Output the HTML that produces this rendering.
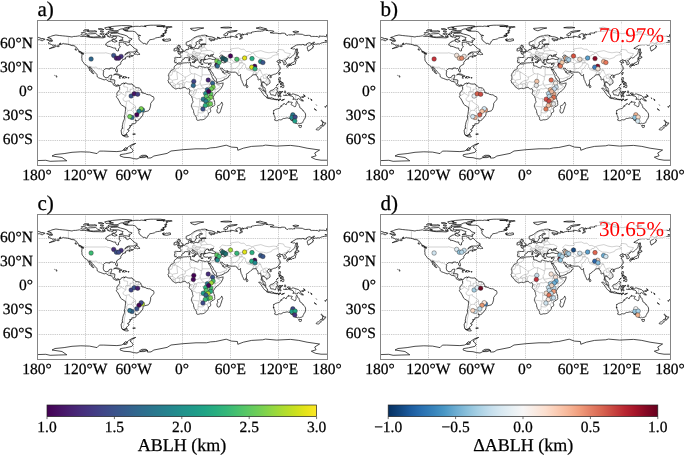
<!DOCTYPE html>
<html><head><meta charset="utf-8"><title>ABLH maps</title><style>
html,body{margin:0;padding:0;background:#fff;}
body{width:685px;height:456px;overflow:hidden;}
svg{display:block;}
text{font-family:"Liberation Serif","DejaVu Serif",serif;fill:#000;stroke:#000;stroke-width:0.25px;text-rendering:geometricPrecision;}
.tl{font-size:15.5px;}
.plab{font-size:21px;}
.cbl{font-size:18px;}
.pct{font-size:21.1px;fill:#ff0000;stroke:none;}
.coast{fill:none;stroke:#000;stroke-width:0.7;stroke-linejoin:round;}
.border{fill:none;stroke:#999;stroke-width:0.45;}
.grid{fill:none;stroke:#999;stroke-width:0.5;stroke-dasharray:1.3 0.9;}
.frame{fill:none;stroke:#858585;stroke-width:1;}
.dot{stroke:#222;stroke-width:0.4;}
</style></head><body><svg width="685" height="456" viewBox="0 0 685 456"><defs><clipPath id="clip"><rect x="0" y="0" width="290.0" height="145.0"/></clipPath><linearGradient id="vir" x1="0" x2="1" y1="0" y2="0"><stop offset="0.000" stop-color="#440154"/><stop offset="0.042" stop-color="#471063"/><stop offset="0.083" stop-color="#481f70"/><stop offset="0.125" stop-color="#472d7b"/><stop offset="0.167" stop-color="#443983"/><stop offset="0.208" stop-color="#404688"/><stop offset="0.250" stop-color="#3b528b"/><stop offset="0.292" stop-color="#365d8d"/><stop offset="0.333" stop-color="#31688e"/><stop offset="0.375" stop-color="#2c728e"/><stop offset="0.417" stop-color="#287c8e"/><stop offset="0.458" stop-color="#24868e"/><stop offset="0.500" stop-color="#21918c"/><stop offset="0.542" stop-color="#1f9a8a"/><stop offset="0.583" stop-color="#20a486"/><stop offset="0.625" stop-color="#28ae80"/><stop offset="0.667" stop-color="#35b779"/><stop offset="0.708" stop-color="#48c16e"/><stop offset="0.750" stop-color="#5ec962"/><stop offset="0.792" stop-color="#75d054"/><stop offset="0.833" stop-color="#90d743"/><stop offset="0.875" stop-color="#addc30"/><stop offset="0.917" stop-color="#c8e020"/><stop offset="0.958" stop-color="#e5e419"/><stop offset="1.000" stop-color="#fde725"/></linearGradient><linearGradient id="rdbu" x1="0" x2="1" y1="0" y2="0"><stop offset="0.000" stop-color="#053061"/><stop offset="0.042" stop-color="#10457e"/><stop offset="0.083" stop-color="#1c5c9f"/><stop offset="0.125" stop-color="#2a71b2"/><stop offset="0.167" stop-color="#3783bb"/><stop offset="0.208" stop-color="#4997c5"/><stop offset="0.250" stop-color="#6bacd1"/><stop offset="0.292" stop-color="#8ac0db"/><stop offset="0.333" stop-color="#a7d0e4"/><stop offset="0.375" stop-color="#c2ddec"/><stop offset="0.417" stop-color="#d7e8f1"/><stop offset="0.458" stop-color="#e7f0f4"/><stop offset="0.500" stop-color="#f7f6f6"/><stop offset="0.542" stop-color="#f9ebe3"/><stop offset="0.583" stop-color="#fcdfcf"/><stop offset="0.625" stop-color="#fbccb4"/><stop offset="0.667" stop-color="#f7b799"/><stop offset="0.708" stop-color="#f19e7d"/><stop offset="0.750" stop-color="#e48066"/><stop offset="0.792" stop-color="#d86551"/><stop offset="0.833" stop-color="#c94741"/><stop offset="0.875" stop-color="#ba2832"/><stop offset="0.917" stop-color="#a51429"/><stop offset="0.958" stop-color="#840924"/><stop offset="1.000" stop-color="#67001f"/></linearGradient><path id="coast" d="M9.6 19.7L12.5 18.9L14.7 19.2L13.1 18.4L12.5 17.7L10.6 17.5L13.7 16.6L14.9 15.9L18.9 15.0L22.3 15.5L25.3 15.8L28.3 16.1L31.4 16.4L35.0 17.0L36.7 16.4L38.7 16.4L40.7 16.1L42.4 15.8L44.3 16.5L47.1 16.3L50.8 16.9L53.2 17.4L56.5 17.7L58.2 17.7L61.0 17.7L65.7 17.9L67.3 17.6L68.5 16.9L67.3 16.0L68.3 14.6L69.4 14.7L70.2 15.4L71.3 15.9L70.6 16.4L72.1 16.5L72.0 17.3L73.1 16.7L74.1 17.2L74.6 17.8L75.7 17.7L76.0 16.2L77.3 16.3L78.5 16.4L79.5 16.8L79.6 17.2L78.9 17.6L79.4 18.0L77.9 19.0L76.8 19.1L75.9 18.9L74.9 20.0L73.7 20.9L71.9 21.3L71.9 21.8L69.9 22.6L68.8 24.1L68.7 25.1L69.9 25.1L70.6 26.6L71.8 26.3L73.3 26.7L76.5 28.0L78.7 28.1L78.9 29.6L80.1 31.0L81.3 31.0L81.7 30.1L81.3 28.9L83.4 27.0L82.7 25.7L81.8 25.1L82.7 24.2L82.3 23.5L82.1 22.3L85.6 22.2L87.5 23.3L88.9 23.3L89.2 25.0L90.5 25.6L91.7 25.1L93.0 23.9L93.6 24.7L95.5 26.6L97.0 28.0L98.4 28.8L100.1 29.6L100.1 30.5L99.0 31.1L97.6 31.3L96.7 32.1L93.5 32.0L91.5 32.1L89.8 32.9L87.7 34.8L89.7 33.6L91.4 32.9L92.6 32.9L93.3 33.4L92.8 34.6L93.4 35.3L95.5 35.5L96.5 35.4L95.9 36.1L94.1 36.5L92.3 37.5L91.8 37.1L93.0 36.0L91.8 36.0L91.1 36.4L90.2 36.7L88.5 37.3L88.0 38.7L88.7 38.7L87.1 39.2L85.4 39.8L85.4 40.6L84.5 41.2L84.2 42.3L83.5 42.7L84.0 43.8L83.2 44.5L81.7 45.2L81.2 45.8L79.8 46.7L79.5 48.1L80.2 49.6L80.5 50.8L80.2 52.2L79.6 52.2L79.0 51.0L78.2 50.0L78.5 49.5L77.6 48.4L76.4 48.7L75.4 48.0L72.8 48.2L73.0 49.0L72.3 49.1L70.5 48.7L69.4 48.6L68.7 48.7L67.2 49.7L66.5 50.4L66.7 51.6L66.3 52.9L66.3 54.9L66.7 55.9L67.4 57.0L69.0 57.9L70.2 57.6L71.4 57.3L72.3 55.6L73.7 55.2L74.9 55.2L74.6 56.8L74.1 58.0L73.9 59.2L73.4 59.7L74.2 59.7L77.0 59.8L78.0 60.4L77.7 61.9L77.5 63.3L77.8 64.1L78.8 65.1L79.8 65.4L80.9 64.8L82.6 65.5L83.1 65.6L84.0 64.9L84.6 63.7L85.9 63.5L86.8 62.9L87.5 63.2L87.1 64.1L87.3 63.6L88.5 63.3L88.7 62.7L89.5 63.3L90.1 63.7L91.7 64.0L93.2 64.1L95.1 63.9L95.9 65.2L96.1 65.6L97.4 66.1L99.0 67.7L100.7 67.7L102.4 68.1L103.7 69.1L104.3 71.0L104.8 71.7L104.2 72.3L105.9 72.7L105.9 73.5L106.5 73.0L108.8 73.8L109.2 74.2L111.6 74.8L112.9 74.8L114.0 75.5L115.0 76.4L116.3 76.6L116.9 77.9L117.0 78.4L116.7 79.8L115.2 81.4L114.1 82.9L113.6 83.6L113.7 85.1L113.3 86.9L112.9 88.3L112.1 90.1L111.2 90.9L109.1 91.4L107.5 91.9L105.9 93.4L105.9 95.2L105.0 96.0L104.2 97.5L102.9 98.4L102.0 99.7L101.7 100.2L100.8 100.7L99.7 100.6L99.0 100.2L98.0 99.8L98.0 100.4L98.9 100.9L99.3 101.8L98.5 103.3L97.3 103.7L94.8 103.8L95.0 105.3L92.6 105.6L93.2 106.7L93.8 106.8L92.7 107.1L92.2 108.8L90.8 109.2L90.5 109.8L92.2 110.5L91.8 111.2L90.4 112.7L89.3 113.3L90.1 114.6L88.0 115.1L87.4 115.9L85.6 115.0L84.7 114.6L84.3 112.0L84.1 110.0L84.8 109.4L85.2 108.0L86.0 108.3L85.6 107.5L85.1 107.3L85.6 104.6L86.0 102.4L86.5 101.1L87.1 99.8L87.5 98.6L87.4 95.8L87.9 94.7L88.3 91.5L88.5 89.7L88.4 87.2L87.5 86.8L84.4 84.8L83.8 84.3L82.1 80.9L80.7 78.3L79.6 77.4L79.4 76.3L80.3 75.2L79.8 74.3L79.9 73.3L80.6 72.2L81.4 71.1L82.9 69.4L82.6 69.2L82.7 67.1L82.0 66.5L81.8 65.7L80.9 65.3L80.2 66.0L80.2 66.6L79.2 66.0L78.2 66.0L77.6 65.6L76.0 64.5L76.0 63.6L74.9 62.4L74.4 61.8L72.7 61.5L71.5 61.3L70.7 60.8L69.8 59.9L68.7 59.5L67.2 59.9L65.3 59.2L63.8 58.6L63.1 58.3L61.6 57.8L60.4 57.0L60.0 55.7L60.2 55.3L59.9 54.5L59.6 54.1L57.7 52.2L56.9 51.2L55.8 50.0L54.6 49.1L53.8 47.4L52.5 46.9L52.6 48.2L53.9 49.3L54.1 50.0L55.1 51.0L55.8 52.5L56.9 53.6L56.1 53.6L54.6 52.6L54.5 51.6L52.8 50.7L52.3 49.9L53.0 49.5L52.0 48.7L51.0 47.0L50.7 46.3L50.5 45.9L49.6 45.4L49.1 45.0L47.9 44.6L47.8 44.1L47.0 43.3L46.3 42.2L45.9 41.9L45.4 41.2L44.9 40.0L45.0 38.7L44.7 38.0L45.0 34.7L44.5 33.5L45.8 33.8L46.2 34.6L46.5 33.1L45.9 33.0L43.8 31.9L42.4 31.6L42.0 30.4L41.0 30.0L40.3 28.4L39.5 28.0L38.4 26.7L37.0 25.7L35.0 25.6L32.3 24.6L30.1 24.1L27.5 23.8L26.5 23.4L24.5 24.2L22.8 24.8L22.6 23.6L23.9 23.1L22.5 24.2L21.5 25.1L20.8 25.7L19.1 26.3L17.4 27.4L15.9 27.7L13.6 28.4L12.2 28.7L13.6 28.1L14.7 27.5L15.9 27.1L17.4 26.4L18.5 25.1L17.6 25.3L16.4 25.1L15.0 25.2L14.5 24.7L14.6 24.5L12.7 23.8L11.8 23.8L11.8 23.3L11.2 23.0L11.5 22.5L12.4 21.7L13.6 21.7L14.9 21.3L15.5 21.1L15.3 20.8L14.9 20.6L15.5 20.3L15.0 20.3L14.1 20.5L13.0 20.5L12.1 20.6L11.0 20.4L10.6 20.1L9.6 19.7M109.6 24.3L107.7 23.4L106.1 23.4L104.8 22.2L103.4 21.3L103.0 20.7L102.9 20.0L101.7 19.3L101.9 18.4L102.3 17.4L100.9 16.4L101.5 15.8L103.6 15.6L102.2 15.1L100.7 15.0L100.1 14.0L98.8 12.3L97.8 11.7L95.6 11.2L89.8 11.2L87.5 10.5L91.2 10.1L87.8 10.0L86.0 9.7L86.0 9.3L89.1 8.9L92.1 8.5L92.4 8.1L90.9 7.7L93.7 7.1L96.4 6.5L98.9 6.3L101.4 6.3L102.3 6.5L104.4 6.1L107.5 6.4L109.2 6.7L107.3 6.0L110.0 5.5L113.9 5.2L116.7 5.2L123.2 5.2L128.2 5.9L126.7 6.2L123.7 6.2L119.7 6.4L125.0 6.6L127.2 6.7L126.3 7.1L128.4 6.8L132.3 6.5L134.7 6.7L135.2 7.0L131.9 7.6L128.9 7.9L130.7 8.0L129.8 8.5L129.1 9.0L129.1 10.0L130.1 10.5L127.5 10.8L129.0 11.2L129.2 11.9L128.3 11.9L129.4 12.6L127.6 12.7L128.6 13.1L127.1 13.5L126.0 13.5L127.0 14.0L127.0 14.3L125.4 14.0L126.2 14.4L127.2 14.9L127.4 15.5L126.1 15.7L124.5 15.0L124.7 15.5L123.7 15.9L127.0 16.0L124.9 16.7L122.7 17.3L120.3 17.6L118.6 18.0L117.5 18.8L115.7 19.3L114.1 19.6L112.9 19.7L112.2 20.3L112.2 20.9L111.8 21.3L110.5 22.0L110.8 22.6L110.4 23.3L110.0 24.1L109.6 24.3M140.5 43.5L139.8 42.9L139.0 42.6L137.8 42.8L137.9 41.6L137.3 41.3L137.9 39.6L137.9 38.4L137.4 37.9L138.6 37.3L139.5 37.4L141.5 37.5L143.5 37.5L143.9 37.1L144.0 35.4L143.2 34.6L141.4 33.9L141.3 33.3L142.3 33.1L143.7 33.4L143.5 32.4L144.2 32.8L146.0 32.1L146.3 31.5L147.0 31.3L147.7 31.2L148.1 30.9L148.8 29.7L149.9 29.4L150.6 29.4L150.7 29.2L151.5 29.4L152.1 29.0L151.9 28.7L151.8 28.0L151.5 27.8L151.5 27.0L151.8 26.5L153.5 26.0L153.3 26.7L153.8 27.0L153.6 27.3L153.1 27.7L153.0 28.2L153.8 28.7L154.7 28.8L155.1 28.6L156.0 28.9L156.4 29.2L157.1 29.0L158.2 28.6L159.2 28.3L160.0 28.4L160.1 28.7L160.9 28.7L161.0 28.3L162.2 28.0L162.0 27.4L162.0 26.7L162.4 26.3L163.1 25.9L163.8 26.6L164.4 26.6L164.6 25.9L164.7 25.5L163.9 25.3L163.8 24.8L164.8 24.6L165.9 24.5L167.6 24.6L169.2 24.2L167.6 23.8L166.2 23.8L164.7 24.1L163.4 24.3L163.0 23.8L162.2 23.6L162.3 22.8L162.0 22.1L162.3 21.6L163.0 21.1L164.9 20.2L165.5 20.1L165.4 19.7L164.3 19.3L162.9 19.6L162.1 20.1L162.2 20.6L161.0 21.3L159.3 22.0L158.8 23.1L159.3 23.7L160.1 24.1L159.4 25.0L158.5 25.2L158.2 26.6L157.8 27.3L156.8 27.2L156.4 27.9L155.4 27.9L155.2 27.1L154.5 26.3L153.9 25.1L153.4 24.6L151.8 25.5L150.6 25.7L149.6 25.3L149.3 24.4L149.0 22.6L149.8 22.1L151.9 21.3L153.5 20.5L155.0 19.4L156.9 17.9L158.2 17.2L160.5 16.3L162.2 15.9L163.5 15.9L164.7 15.3L166.3 15.3L167.7 15.1L170.2 15.7L169.2 15.9L170.1 16.4L170.9 16.2L172.2 16.7L174.4 16.8L177.5 17.8L178.1 18.1L178.1 18.7L177.2 19.1L175.9 19.3L172.3 18.7L171.7 18.9L173.0 19.4L173.1 20.6L174.2 20.9L174.8 21.1L174.9 20.7L174.4 20.3L175.0 20.1L176.9 20.5L177.5 20.3L177.1 19.7L178.9 18.9L180.4 19.3L180.8 18.7L180.2 18.2L180.6 17.7L180.0 17.2L182.3 17.6L182.7 18.0L181.7 18.0L181.7 18.5L182.9 18.6L183.6 18.6L183.7 18.1L185.4 17.7L188.3 17.0L188.9 17.1L188.1 17.6L189.1 17.6L189.6 17.4L191.2 17.3L192.4 17.0L193.3 17.5L194.2 17.0L193.3 16.5L193.8 16.2L196.2 16.5L197.3 16.8L200.2 17.6L200.7 17.2L199.9 16.8L199.9 16.6L198.9 16.5L199.2 16.2L198.7 15.5L198.7 15.3L200.2 14.6L200.7 13.9L201.3 13.7L203.5 13.9L203.6 14.3L202.8 15.0L203.4 15.2L203.6 15.8L203.5 16.9L204.4 17.4L204.0 18.0L202.4 19.1L203.3 19.2L203.6 18.9L204.5 18.7L204.8 18.3L205.5 17.9L205.0 17.5L205.3 16.9L204.5 16.8L204.3 16.4L204.9 15.6L203.9 15.0L205.3 14.4L205.2 13.9L205.6 13.8L206.0 14.3L205.7 15.1L206.5 15.1L206.1 14.6L207.5 14.3L209.2 14.3L210.7 14.7L209.9 14.0L209.8 13.2L211.3 13.0L213.2 13.1L214.9 13.0L214.3 12.5L215.2 12.0L216.1 12.0L217.7 11.6L219.8 11.4L220.1 11.3L222.3 11.2L222.9 11.4L224.7 11.0L226.2 11.0L226.4 10.6L227.2 10.2L229.1 9.9L230.5 10.1L229.3 10.4L231.2 10.5L231.4 10.9L232.2 10.7L234.5 10.7L236.3 11.1L236.9 11.4L236.8 11.8L235.9 12.1L233.8 12.5L233.1 12.7L234.1 12.9L235.3 13.1L236.0 12.9L236.4 13.5L236.8 13.2L238.1 13.1L240.7 13.2L240.9 13.6L244.2 13.7L244.3 13.1L246.0 13.2L247.3 13.2L248.6 13.7L249.0 14.2L248.5 14.5L249.5 15.1L250.8 15.5L251.6 14.7L252.9 15.0L254.2 14.7L255.8 15.1L256.3 14.8L257.7 14.9L257.1 14.2L258.2 13.9L265.4 14.3L266.2 14.8L268.2 15.5L271.5 15.3L273.1 15.4L273.7 15.7L273.6 16.4L274.6 16.6L275.7 16.4L277.2 16.4L278.6 16.5L280.2 16.4L281.6 17.2L282.6 16.9L281.9 16.4L282.3 16.0L284.8 16.3L286.5 16.2L288.9 16.6L290.0 16.9M0.0 16.9L1.9 17.6L4.1 18.4L4.0 18.9L4.6 19.1L4.8 18.5L6.5 18.6L8.1 19.3L7.3 19.7L6.0 19.8L6.0 20.5L5.6 20.7L4.9 20.7L4.0 20.5L3.1 19.8L2.3 19.7L1.3 19.8L0.9 19.6L1.0 19.3L0.1 19.4L0.0 20.1M290.0 20.1L289.5 20.5L287.9 20.5L288.6 20.9L289.1 21.5L289.5 21.8L289.4 22.3L287.9 22.2L285.7 22.7L284.9 22.8L283.7 23.4L282.5 23.9L282.2 24.2L281.1 23.7L279.0 24.3L278.6 24.0L277.8 24.4L276.7 24.2L276.5 24.8L275.5 25.6L275.6 25.9L276.5 26.1L276.4 27.2L275.6 27.3L275.3 28.0L275.6 28.3L274.2 28.8L273.9 29.6L272.7 29.8L272.0 31.0L271.0 30.9L270.7 29.6L270.2 27.9L270.6 26.7L271.3 26.3L272.6 25.7L274.1 24.7L275.4 23.9L276.9 23.3L277.5 22.1L276.5 22.2L276.1 22.9L274.0 23.8L273.3 22.7L271.2 23.0L269.2 24.3L269.9 24.9L268.1 25.1L266.9 25.1L266.9 24.6L265.7 24.4L264.6 24.8L262.2 24.7L259.6 25.0L257.0 26.5L253.8 28.4L255.1 28.5L255.5 29.0L256.3 29.2L256.8 28.8L257.7 28.8L258.8 29.7L258.9 30.4L258.3 31.3L258.2 32.2L257.9 33.5L256.7 34.6L256.3 35.2L255.3 36.2L254.2 37.1L253.7 37.5L252.5 38.0L252.1 38.0L251.6 37.6L250.4 38.2L250.4 38.5L250.0 38.4L249.7 38.7L249.5 39.6L249.1 39.7L248.6 40.1L248.1 40.3L247.7 40.4L247.6 40.9L248.4 41.4L249.1 42.4L249.3 42.9L249.3 43.8L249.0 44.2L247.6 44.7L246.9 44.8L246.8 44.4L247.0 43.7L246.6 42.9L247.2 42.8L246.7 42.1L246.3 42.0L245.9 42.1L245.5 41.8L245.7 41.5L245.9 41.2L246.0 40.8L245.9 40.6L245.5 40.5L245.1 40.4L244.0 40.6L243.4 40.9L242.6 41.2L243.0 40.8L242.8 40.4L243.4 40.0L243.0 39.6L242.3 39.8L241.3 40.4L240.9 40.8L240.1 40.9L239.7 41.3L240.1 41.8L240.8 42.0L240.8 42.4L241.4 42.5L242.3 42.0L243.0 42.3L243.6 42.3L243.7 42.8L242.6 42.9L242.2 43.4L241.4 43.8L241.0 44.4L241.8 44.8L242.2 45.6L242.6 46.3L243.2 47.0L243.2 47.6L242.7 47.8L242.9 48.3L243.4 48.5L243.2 49.1L243.0 49.8L242.6 49.9L241.3 51.8L240.6 52.8L238.4 54.1L237.5 54.2L237.0 54.6L236.7 54.4L236.2 54.7L235.1 55.1L234.3 55.3L233.9 56.1L233.5 56.1L233.3 55.6L233.5 55.3L232.4 55.0L232.1 55.1L231.0 55.8L230.3 56.6L230.1 57.1L230.7 58.0L231.5 59.0L232.2 59.5L232.7 60.2L233.0 61.7L233.0 63.1L232.3 63.6L231.4 64.1L230.7 64.8L229.7 65.6L229.4 65.1L229.7 64.5L229.0 64.0L228.4 64.0L228.1 63.5L227.7 62.7L226.9 62.4L226.2 62.4L226.4 61.7L225.6 61.7L225.6 62.6L224.9 63.6L224.9 65.1L225.5 65.1L225.8 65.8L226.0 66.5L226.4 66.9L226.8 67.1L227.2 67.5L228.0 68.1L228.3 68.6L228.3 69.1L228.2 69.5L228.3 69.8L228.4 70.2L228.7 70.5L228.9 71.2L228.9 71.5L228.4 71.5L227.7 70.9L226.7 70.2L226.6 69.8L226.1 69.4L226.0 68.6L225.7 68.2L225.8 67.7L225.6 67.3L225.3 67.0L225.2 66.6L224.8 66.1L224.3 65.7L224.2 66.2L224.1 65.7L224.2 65.2L224.4 64.5L224.3 63.9L224.6 63.3L224.3 62.8L224.3 61.9L224.0 61.5L223.8 60.6L223.6 59.5L223.3 58.9L222.7 59.3L221.8 59.9L221.4 59.8L220.9 59.6L221.1 58.6L221.0 57.8L220.3 56.9L220.5 56.6L220.0 56.5L219.4 55.8L219.2 55.4L219.1 55.0L219.0 54.6L218.6 54.1L217.9 54.1L218.0 54.5L217.7 54.9L217.3 54.8L217.0 54.8L216.7 54.7L216.6 55.0L216.1 55.0L215.1 55.2L215.1 55.8L214.7 56.2L213.6 56.8L212.6 57.8L212.0 58.2L211.2 58.8L211.2 59.1L210.8 59.4L210.1 59.6L209.7 59.7L209.4 60.3L209.6 61.4L209.7 62.0L209.4 62.8L209.4 64.1L208.9 64.2L208.6 64.8L208.8 65.1L208.1 65.3L207.8 65.8L207.4 66.1L206.7 65.3L206.3 64.2L206.0 63.4L205.7 63.0L205.3 62.3L205.1 61.2L204.9 60.7L204.2 59.6L203.9 58.1L203.6 57.0L203.6 56.1L203.5 55.3L203.6 54.5L203.2 54.7L202.4 55.7L201.8 55.7L200.7 54.7L201.1 54.4L200.8 54.1L199.9 53.4L199.3 53.2L199.1 52.6L198.5 52.0L197.0 52.2L195.7 52.2L194.5 52.3L193.0 52.0L192.1 51.9L191.2 51.8L190.9 50.8L190.5 50.7L189.9 50.8L189.1 51.2L188.1 50.9L187.3 50.3L186.5 50.0L186.0 49.3L185.4 48.3L185.0 48.3L184.4 48.1L184.2 48.4L183.7 48.3L183.7 48.7L184.0 49.5L184.3 50.2L184.7 50.3L184.9 50.7L185.4 51.0L185.4 51.6L185.4 51.9L185.7 52.1L185.9 52.5L186.2 51.5L186.6 51.7L186.6 52.2L186.4 52.7L186.9 53.2L188.5 53.1L189.6 52.0L190.2 51.5L190.4 51.2L190.4 51.6L190.4 52.4L191.2 53.2L191.8 53.4L192.3 53.5L192.9 54.2L193.2 54.5L192.8 55.3L192.4 55.5L192.1 56.1L191.7 56.0L191.5 56.6L191.6 57.1L191.1 57.3L190.6 57.5L190.4 58.1L189.9 58.1L189.5 58.3L189.5 58.6L189.1 58.8L188.7 58.8L188.2 59.0L187.2 59.3L187.0 59.9L186.2 60.3L185.0 60.7L184.2 61.2L183.6 61.2L183.2 61.5L182.6 61.7L181.7 61.8L181.3 62.0L180.8 62.3L180.0 62.4L179.8 61.9L179.9 61.4L179.6 60.6L179.3 60.3L179.5 59.7L179.3 59.0L179.1 58.4L178.7 58.2L178.2 57.4L177.9 56.8L177.4 56.2L176.5 55.3L176.4 54.8L176.5 54.3L176.0 53.4L175.2 52.9L175.0 52.3L174.5 51.7L174.2 51.1L173.7 50.4L173.3 49.9L172.9 49.9L173.0 49.1L173.2 48.8L172.9 49.5L172.5 50.1L172.1 49.7L171.3 48.4L171.1 48.5L171.6 49.6L172.3 50.8L172.8 51.6L173.8 53.2L173.6 53.9L174.6 54.6L175.0 55.6L174.9 56.6L175.2 57.5L175.9 58.0L176.4 59.0L176.7 59.7L177.1 60.1L178.2 60.8L178.6 61.3L179.1 61.8L179.7 62.3L179.9 62.5L179.4 63.1L179.7 63.2L180.0 63.4L180.5 64.1L180.9 64.1L181.7 63.9L182.5 63.8L183.3 63.6L184.4 63.3L185.5 63.1L186.2 62.8L186.1 63.5L186.1 64.0L185.8 65.1L184.9 67.0L184.2 68.2L183.4 69.1L182.5 70.2L181.7 70.9L180.5 71.6L179.7 72.3L178.8 73.2L178.5 73.9L177.9 74.2L177.5 74.6L177.3 75.2L176.9 76.0L176.6 76.3L176.2 77.3L176.3 77.7L176.7 78.0L176.6 78.7L176.7 78.9L176.6 79.3L176.8 79.8L177.1 80.6L177.5 80.8L177.6 81.2L177.5 82.0L177.7 82.6L177.7 83.9L177.9 84.3L177.6 84.9L177.3 85.5L176.8 86.0L176.0 86.3L175.1 86.7L174.2 87.6L173.9 87.6L173.4 88.3L173.0 88.5L173.0 89.0L173.4 89.7L173.5 90.1L173.7 90.3L173.6 91.1L173.5 91.4L173.7 91.6L173.6 91.9L173.2 92.2L172.5 92.5L171.6 93.0L171.3 93.2L171.3 93.5L171.5 93.6L171.4 94.0L171.3 94.7L171.2 95.3L170.9 95.7L170.4 96.1L169.9 96.6L169.7 97.0L169.2 97.6L168.3 98.4L167.7 98.9L167.2 99.2L166.3 99.6L165.8 99.8L165.3 99.7L164.9 99.9L164.0 99.7L163.2 99.8L162.3 100.1L161.7 100.2L161.2 100.5L160.8 100.5L160.5 100.3L159.8 99.9L159.7 99.8L159.7 99.3L159.4 98.8L159.7 98.6L159.7 98.0L159.2 97.2L158.8 96.6L158.1 95.5L157.6 94.9L157.2 94.3L157.1 93.5L156.8 93.0L156.6 91.8L156.6 90.8L156.5 90.3L156.2 90.0L155.8 89.3L155.3 88.4L155.2 87.8L154.5 87.1L154.4 86.4L154.3 86.0L154.5 85.2L154.7 84.5L154.8 84.1L155.1 83.4L155.2 83.1L155.7 82.6L156.0 82.2L156.0 81.6L156.0 81.1L155.8 80.9L155.6 80.4L155.4 79.9L155.6 79.4L155.4 78.6L155.2 78.1L154.8 77.6L154.8 77.2L154.6 76.5L153.9 75.7L153.1 74.9L152.6 74.2L152.1 73.4L152.2 72.9L152.5 72.3L152.7 71.7L152.5 71.5L152.7 70.6L152.9 70.0L152.6 69.5L152.2 69.4L152.0 69.0L151.8 68.6L151.0 69.0L150.7 68.9L150.4 69.1L149.8 69.0L149.4 68.6L149.0 68.0L148.5 67.4L147.9 67.4L147.2 67.4L146.5 67.6L145.9 67.7L144.6 68.2L144.1 68.5L143.4 68.7L142.7 68.5L141.8 68.3L141.3 68.3L140.3 68.5L139.8 68.7L139.0 69.0L138.6 69.0L137.8 68.5L137.0 68.0L136.3 67.6L135.8 67.0L135.0 66.6L134.6 66.2L134.4 65.9L134.4 65.3L134.0 64.8L133.6 64.5L133.2 64.3L133.2 63.9L132.8 63.6L132.4 63.2L132.0 63.2L131.9 62.9L131.6 62.7L131.5 62.5L131.5 61.9L131.5 61.5L131.2 60.9L130.8 60.7L131.1 60.5L131.5 59.9L131.7 59.5L132.0 57.9L131.9 57.1L131.8 56.7L131.9 56.3L131.7 55.9L131.2 55.6L131.3 55.3L131.3 54.9L131.6 54.6L131.9 54.2L131.9 54.0L132.1 53.4L132.6 52.8L132.8 52.8L133.1 52.3L133.4 51.3L133.9 51.1L134.4 50.2L134.9 49.9L135.6 49.9L136.2 49.3L136.6 49.1L137.3 48.4L137.1 47.4L137.4 46.7L137.5 46.2L138.0 45.8L138.8 45.4L139.4 45.0L140.0 44.2L140.2 43.7L140.8 43.7L141.3 44.1L142.1 44.0L142.9 44.1L143.2 44.1L144.0 43.7L144.9 43.6L145.4 43.3L146.2 43.0L147.6 42.9L148.9 42.8L149.3 42.9L150.1 42.6L150.9 42.6L151.2 42.8L151.8 42.8L152.7 42.5L153.2 42.5L153.2 42.9L153.9 42.6L153.9 42.8L153.5 43.2L153.5 43.6L153.8 43.7L153.7 44.5L153.1 44.9L153.3 45.3L153.8 45.3L153.9 45.7L154.3 45.8L155.2 46.1L155.6 46.0L156.2 46.2L157.2 46.5L157.6 47.2L158.4 47.4L159.5 47.7L160.4 48.1L160.8 47.9L161.2 47.5L161.0 46.9L161.2 46.6L161.8 46.2L162.3 46.1L163.4 46.2L163.7 46.6L164.3 46.7L165.1 46.8L165.3 47.0L166.3 47.0L167.2 47.3L168.0 47.5L168.3 47.6L168.9 47.4L169.2 47.1L170.0 47.0L170.5 47.2L170.8 47.6L170.9 47.3L171.6 47.5L172.2 47.5L172.6 47.4L172.9 47.1L173.0 46.6L173.2 46.1L173.3 45.8L173.6 45.2L174.0 44.6L174.0 44.4L173.9 44.0L174.1 43.7L173.8 43.3L174.2 42.9L173.7 43.0L173.0 42.9L172.4 43.3L171.2 43.4L170.5 43.0L169.7 42.9L169.5 43.3L168.9 43.4L168.1 42.9L167.2 42.9L166.8 42.1L166.2 41.7L166.6 41.1L166.1 40.7L166.1 40.3L166.3 40.1L167.0 40.0L168.2 39.9L168.5 39.3L167.6 39.0L167.5 38.7L167.3 38.2L167.6 37.6L168.0 37.3L168.2 36.3L168.4 36.4L168.8 36.0L169.5 35.4L169.7 35.0L170.5 34.9L170.5 35.2L171.8 35.4L172.1 35.5L171.3 35.8L171.2 36.0L172.0 36.2L171.8 36.6L172.3 36.7L173.4 36.3L174.2 36.2L174.4 35.8L173.5 36.0L173.2 35.7L173.1 35.2L173.8 35.0L175.1 34.6L175.8 34.6L176.5 34.4L175.8 35.3L175.1 35.9L174.6 36.1L175.2 36.5L176.2 36.8L177.2 37.5L177.5 37.8L177.9 37.9L178.4 38.2L178.6 38.7L178.5 39.1L177.5 39.5L176.8 39.4L175.9 39.6L174.7 39.2L173.4 38.7L172.0 38.7L171.0 38.9L170.1 39.4L169.6 39.4L168.5 39.3L168.2 39.6L167.2 39.5L166.4 39.8L165.9 39.6L165.5 39.6L165.1 39.6L164.1 39.7L164.7 40.2L164.3 40.3L163.8 40.3L163.4 39.9L163.2 40.0L163.4 40.5L163.9 40.9L163.5 41.1L163.9 41.5L164.3 41.7L164.3 42.1L163.6 42.0L163.9 42.4L163.4 42.5L163.7 43.2L163.1 43.2L162.5 42.9L162.2 42.2L162.0 41.6L161.7 41.2L161.3 40.8L161.1 40.5L161.1 40.3L160.6 40.0L160.5 39.7L160.6 39.2L160.7 38.9L160.5 38.7L160.2 38.4L159.9 38.3L159.3 37.9L158.6 37.7L157.9 37.5L157.2 36.9L157.0 36.5L157.0 36.2L156.5 36.1L156.3 36.4L156.0 36.2L156.0 35.8L155.6 35.7L154.9 35.9L155.0 36.3L154.9 36.6L155.2 37.0L155.9 37.4L156.3 38.0L157.2 38.7L157.8 38.7L158.0 38.9L157.8 39.1L158.8 39.5L159.1 39.6L159.8 40.0L159.9 40.1L159.7 40.4L159.3 40.0L158.6 40.0L158.2 40.4L158.9 40.8L158.8 41.2L158.4 41.2L158.0 41.9L157.6 42.0L157.6 41.7L157.8 41.2L158.0 41.1L157.4 40.3L157.1 40.1L156.8 39.8L156.4 39.6L156.0 39.3L155.4 39.2L154.7 38.9L154.0 38.3L153.5 37.9L153.2 37.1L152.8 37.1L152.2 36.7L151.8 36.9L151.4 37.2L151.0 37.3L150.2 37.8L148.7 37.5L147.5 37.8L147.4 38.3L147.4 38.7L146.7 39.3L145.6 39.5L145.6 39.7L145.1 40.2L144.8 40.8L145.1 41.3L144.6 41.6L144.4 42.2L143.9 42.4L143.3 42.9L141.5 42.9L141.0 43.3L140.7 43.6L140.5 43.5M182.6 36.6L183.3 35.8L184.6 35.1L185.5 35.2L186.1 36.2L185.5 36.6L186.3 37.8L187.5 38.3L187.3 38.8L187.6 39.4L188.5 39.6L187.7 40.3L188.0 40.8L187.8 40.8L188.4 42.5L186.6 42.9L185.4 42.4L184.4 41.2L184.6 39.8L185.4 39.9L184.9 39.6L184.2 38.8L183.2 37.5L182.6 36.6M259.8 81.1L260.0 81.5L260.3 82.1L260.6 82.8L260.7 83.3L260.7 83.6L261.5 83.9L262.1 84.6L262.0 84.9L262.2 85.6L262.3 86.0L262.8 86.8L262.7 87.2L262.9 87.8L264.4 88.6L264.9 88.9L265.6 90.5L265.9 90.3L266.5 90.7L266.6 91.4L267.5 92.2L268.3 92.9L268.3 93.5L268.7 95.1L268.3 97.0L268.2 98.0L267.8 98.8L267.2 99.1L266.9 99.7L266.6 100.5L265.9 101.8L265.8 102.4L265.3 103.0L263.7 103.3L262.9 103.9L262.2 103.6L261.7 103.4L261.4 103.2L260.7 103.8L260.0 103.5L259.1 103.4L258.3 103.1L257.5 102.6L257.6 102.0L257.1 101.3L256.2 101.2L256.6 100.8L256.3 100.2L255.9 100.8L255.2 100.9L255.7 100.5L255.8 100.0L256.1 99.6L256.0 99.0L254.9 100.0L254.6 100.6L253.9 100.3L253.9 99.8L253.4 99.2L253.0 98.9L253.2 98.8L252.1 98.3L251.6 98.3L250.8 97.9L249.3 98.0L248.3 98.3L247.4 98.5L246.6 98.4L245.8 98.8L245.1 99.1L244.6 99.8L243.9 99.8L243.4 99.9L242.7 99.7L242.2 99.8L241.6 99.9L241.1 100.3L240.9 100.3L240.1 100.8L239.5 100.7L238.9 100.7L238.1 100.2L237.6 100.1L237.6 99.6L238.0 99.5L238.2 99.3L238.2 99.0L238.2 98.8L238.3 98.4L238.2 98.0L237.8 97.1L237.6 96.7L237.6 96.3L237.3 95.7L237.3 95.5L237.0 95.1L236.8 94.5L236.4 93.8L236.3 93.5L236.7 93.8L236.3 93.1L236.8 93.4L237.0 93.7L237.0 93.3L236.6 92.6L236.5 92.4L236.3 92.2L236.4 91.7L236.6 91.5L236.7 91.1L236.6 90.6L236.9 90.1L237.0 90.6L237.3 90.1L238.0 89.8L238.4 89.5L239.0 89.2L239.4 89.1L239.6 89.2L240.2 88.9L240.7 88.9L240.9 88.6L241.1 88.6L241.5 88.6L242.4 88.4L242.8 88.0L243.0 87.6L243.4 87.2L243.5 86.4L244.1 85.7L244.4 86.4L244.8 86.3L244.5 85.9L244.7 85.5L245.1 85.6L245.2 85.1L245.6 84.7L245.9 84.3L246.3 84.2L246.3 83.9L246.6 84.0L246.6 83.9L247.0 83.8L247.4 83.6L248.0 84.0L248.4 84.5L248.9 84.5L249.4 84.6L249.2 84.1L249.6 83.5L250.0 83.3L249.9 83.1L250.2 82.6L250.7 82.3L251.1 82.4L251.8 82.2L251.8 81.8L251.2 81.6L251.7 81.4L252.1 81.7L252.6 82.0L253.3 82.2L253.5 82.1L254.0 82.3L254.5 82.2L254.8 82.2L255.0 82.1L255.4 82.5L255.1 82.9L254.8 83.2L254.6 83.2L254.6 83.5L254.4 83.9L254.1 84.3L254.2 84.6L254.8 85.1L255.4 85.3L255.8 85.6L256.4 86.0L256.7 86.0L257.1 86.3L257.2 86.5L257.9 86.8L258.5 86.5L258.7 86.0L258.8 85.7L258.9 85.2L259.1 84.6L259.1 84.3L259.0 83.5L259.1 82.9L259.2 82.7L259.1 82.5L259.3 82.1L259.5 81.6L259.5 81.4L259.8 81.1M100.3 30.9L99.1 31.8L98.1 33.0L97.3 33.4L97.1 34.2L98.1 34.2L99.5 34.2L100.1 34.6L100.7 34.7L101.5 34.2L102.3 35.0L102.6 34.2L102.2 33.4L101.5 32.7L100.3 32.3L100.1 31.4L100.3 30.9M76.6 54.9L77.8 54.1L79.1 53.8L80.1 53.9L80.8 54.1L81.9 54.4L82.9 55.0L84.1 55.6L85.2 56.1L84.1 56.5L82.3 56.5L82.9 56.1L82.1 55.8L81.6 55.1L79.1 54.6L78.8 54.5L77.7 54.6L76.6 54.9M87.2 56.6L88.6 56.7L89.4 57.2L90.0 57.5L89.1 57.7L88.0 57.7L87.5 58.3L86.7 57.8L85.1 57.8L86.4 57.5L86.4 56.8L86.0 56.6L87.2 56.6M82.5 57.6L83.5 58.0L82.8 58.2L81.9 57.8L82.5 57.6M90.9 57.6L92.2 57.8L92.0 58.0L90.9 58.0L90.9 57.6M92.4 22.6L89.6 21.8L87.8 21.8L85.4 20.6L82.2 20.7L83.8 19.9L85.8 19.7L85.4 18.6L86.2 17.7L83.4 16.7L81.4 15.9L77.3 15.9L74.1 15.8L72.9 15.1L74.1 13.3L76.5 13.3L80.6 13.1L83.4 14.0L87.0 14.9L89.8 15.9L91.0 16.8L91.4 17.7L95.1 18.9L93.8 20.3L92.5 20.0L91.8 21.2L93.0 21.8L92.4 22.6M80.2 21.3L77.7 22.2L76.9 21.8L74.9 21.1L75.7 19.7L76.4 19.3L78.1 20.1L79.3 20.5L80.2 21.3M63.6 16.5L60.4 16.8L56.8 17.1L53.6 16.8L50.3 16.2L52.4 15.7L49.5 15.3L50.3 14.0L53.6 13.8L56.0 13.7L58.8 13.5L60.8 15.3L62.4 15.7L63.6 16.5M43.9 14.6L45.5 15.1L47.9 14.9L48.7 14.1L49.5 13.5L47.1 12.6L44.4 12.6L45.1 13.3L43.9 14.6M80.7 10.5L83.8 9.0L86.6 8.7L87.6 7.9L91.4 7.1L95.1 6.3L92.6 5.7L84.6 5.6L75.7 6.4L71.7 7.2L72.9 7.7L74.5 8.5L76.5 8.9L72.5 9.3L74.1 10.1L77.3 10.9L80.7 10.9L80.7 10.5M80.6 12.4L78.1 12.5L73.7 12.6L70.9 11.7L72.5 10.9L76.5 11.1L80.6 11.1L81.4 11.8L80.6 12.4M72.1 9.3L68.9 9.4L67.7 7.8L71.3 7.1L74.1 7.7L72.1 9.3M68.5 14.5L69.7 12.9L72.1 13.0L70.9 14.1L68.5 14.5M65.7 14.9L62.8 13.9L63.6 13.4L66.5 13.1L67.3 14.1L65.7 14.9M60.0 11.7L56.4 11.9L53.2 12.1L50.3 11.3L52.0 10.9L56.4 10.9L57.6 10.6L59.6 11.3L60.0 11.7M66.1 12.1L63.6 11.7L63.2 11.0L64.8 10.9L66.5 11.4L66.1 12.1M52.0 10.1L49.1 11.0L46.3 10.9L47.5 9.8L50.8 9.7L52.0 10.1M67.3 17.1L64.8 16.9L65.7 16.1L67.7 16.3L67.3 17.1M66.9 9.7L63.6 9.7L61.2 8.9L64.4 8.5L66.9 9.7M45.5 33.5L43.7 33.0L41.6 31.7L42.5 31.5L44.3 32.2L45.5 33.5M39.1 28.9L37.9 29.0L38.3 29.8L39.3 30.4L39.1 28.9M21.3 25.9L22.4 26.1L21.6 26.6L20.5 26.7L21.3 25.9M89.7 114.9L90.6 116.0L91.4 116.8L89.8 117.0L87.8 116.7L85.4 115.2L86.6 115.6L88.2 115.2L89.1 114.8L89.7 114.9M95.7 114.2L97.9 113.7L98.4 114.1L97.5 114.5L95.7 114.2M19.4 56.2L20.1 56.6L19.6 57.3L19.3 56.6L19.4 56.2M17.8 55.1L18.0 55.3L17.6 55.3L17.8 55.1M18.9 55.7L19.3 55.8L18.9 55.9L18.9 55.7M140.4 32.1L141.4 32.0L142.3 31.7L143.5 31.7L145.4 31.6L146.1 31.2L145.5 31.0L146.4 30.0L145.2 29.8L144.9 29.3L144.0 28.5L143.6 27.7L143.3 27.4L142.5 27.4L142.9 27.1L143.5 26.1L142.2 26.0L141.6 26.1L142.5 25.3L141.0 25.3L140.0 26.7L140.5 27.1L140.5 28.0L141.2 27.8L141.0 28.4L142.1 28.5L142.6 29.1L142.5 29.5L141.3 29.4L141.5 30.0L141.1 30.5L140.7 30.8L141.6 30.9L142.6 30.9L141.5 31.3L140.7 31.4L140.4 32.1M140.0 29.1L140.2 28.2L139.0 27.9L138.2 28.2L138.1 28.7L136.9 28.9L137.1 29.5L137.4 30.1L136.7 30.6L137.2 30.9L138.2 30.9L139.6 30.4L140.2 29.9L140.0 29.1M133.3 18.9L133.2 19.5L134.0 20.1L132.9 20.6L129.9 21.3L126.6 20.9L127.4 20.6L125.7 20.2L127.1 20.1L125.4 19.7L125.9 19.1L127.2 19.0L128.4 19.6L129.6 19.1L130.7 19.3L132.0 18.9L133.3 18.9M153.5 8.4L157.9 8.1L161.1 7.7L166.8 8.0L163.5 8.7L161.9 9.2L159.9 10.1L157.9 10.8L155.9 10.2L153.9 9.3L153.5 8.4M186.5 14.9L188.1 13.7L189.7 12.5L190.9 11.7L193.3 11.1L196.6 10.7L200.2 10.5L199.8 11.1L194.9 12.0L192.1 12.6L190.1 13.7L190.7 14.9L189.3 15.5L187.7 15.4L186.5 14.9M219.1 8.1L223.1 7.1L226.4 8.1L229.6 8.9L226.4 9.5L223.1 9.0L219.1 8.1M255.8 11.7L258.6 11.1L261.8 11.7L259.4 12.6L257.0 12.3L255.8 11.7M183.7 7.7L186.9 7.2L191.7 7.1L194.9 7.7L189.3 8.1L183.7 7.7M289.0 15.1L290.0 14.9L290.0 15.4L289.0 15.1M259.3 35.4L259.9 34.9L260.6 35.4L260.4 32.8L261.5 33.1L260.6 31.4L260.4 30.0L260.4 28.8L259.7 28.8L260.0 29.2L259.1 29.6L259.1 30.4L259.6 31.4L259.4 33.6L259.3 35.4M257.8 38.3L258.0 37.6L258.9 37.5L259.3 35.8L260.3 36.7L262.0 36.8L262.0 37.6L260.9 37.9L260.4 38.7L259.1 38.1L258.7 39.0L257.8 39.1L257.8 38.3M259.3 40.9L258.9 39.2L258.0 39.3L257.7 39.8L257.8 40.8L257.3 41.7L256.7 42.1L255.4 42.9L255.1 42.5L254.3 43.9L252.1 43.9L251.8 44.0L250.5 44.8L251.7 45.2L252.9 44.8L253.8 44.6L254.4 45.5L255.2 44.8L255.7 44.5L257.0 44.5L257.7 43.8L258.0 44.2L258.5 43.3L258.6 41.7L259.3 40.9M249.9 45.4L250.4 45.2L251.3 45.9L250.8 47.2L250.3 47.5L249.9 47.2L249.6 46.2L249.9 45.4M251.7 45.5L253.5 45.3L253.4 44.9L252.1 45.0L251.7 45.5M242.9 52.1L243.3 52.4L242.6 54.1L242.2 54.9L241.8 54.0L241.7 53.5L242.9 52.1M232.5 56.9L233.4 57.8L234.3 57.5L234.4 56.6L234.1 56.3L233.3 56.4L232.5 56.9M209.2 65.9L209.5 64.6L210.1 65.0L210.5 65.6L210.9 66.5L210.7 67.3L210.4 67.5L209.7 67.7L209.4 67.0L209.2 65.9M184.9 82.2L185.4 83.5L185.7 84.7L185.4 85.4L184.9 86.3L184.8 87.0L184.1 89.0L183.6 90.5L182.9 92.6L181.6 93.1L180.4 92.6L179.9 90.9L180.0 89.7L180.8 88.7L180.4 86.5L180.8 85.6L181.7 85.4L182.3 85.2L183.4 84.3L183.7 83.9L184.3 83.1L184.6 82.2L184.9 82.2M171.0 44.2L172.3 44.1L172.9 43.7L172.3 44.3L171.5 44.6L171.0 44.2M163.9 44.1L166.2 44.1L165.1 44.3L163.9 44.1M155.0 42.1L157.2 41.7L157.6 41.9L157.2 43.0L155.0 42.1M151.8 39.5L152.9 39.5L152.7 40.9L151.8 41.1L151.8 39.5M152.0 38.2L152.6 37.9L152.7 38.6L152.4 39.2L151.9 38.7L152.0 38.2M153.9 27.9L155.2 27.8L154.9 27.3L154.1 27.6L153.9 27.9M242.2 57.6L243.4 57.6L243.5 58.7L243.0 59.7L243.0 61.0L244.9 62.4L244.3 62.0L243.6 61.5L242.2 61.3L242.4 60.7L241.7 60.2L241.6 59.3L242.0 59.6L241.9 58.7L242.2 57.6M243.2 66.9L244.1 66.5L244.6 66.2L245.1 65.9L246.0 65.2L246.0 64.6L246.7 65.0L246.9 66.2L246.7 67.4L246.0 68.0L245.7 67.7L245.1 67.5L244.8 66.6L243.4 66.9L243.2 66.9M245.1 62.4L246.1 62.7L246.3 63.6L245.7 64.4L245.1 63.2L245.1 62.4M243.2 62.9L244.2 63.5L243.7 64.0L243.2 63.6L243.2 62.9M243.6 63.9L244.5 63.8L244.2 65.2L243.6 64.7L243.6 63.9M239.4 65.7L241.3 64.0L240.9 64.1L239.6 65.7L239.4 65.7M241.9 61.6L242.9 61.9L242.6 62.7L242.1 62.1L241.9 61.6M232.8 71.3L233.4 70.9L234.6 70.3L236.0 70.0L237.6 68.6L238.6 67.6L239.0 66.9L239.8 67.3L240.5 68.2L241.0 68.1L240.4 68.5L240.1 68.9L240.0 69.7L240.1 70.6L240.8 71.7L239.9 71.9L239.7 73.1L238.9 73.7L238.8 74.5L238.5 75.7L237.6 75.8L237.2 75.3L236.3 75.0L235.0 74.9L234.4 74.9L233.8 74.8L233.7 73.8L233.3 73.5L232.9 72.9L232.8 72.2L232.8 71.3M221.8 68.1L223.5 68.3L224.3 69.0L225.3 69.9L226.0 70.8L226.9 70.8L227.6 71.4L228.1 72.0L228.6 72.4L228.3 73.1L229.1 73.4L229.5 74.4L230.5 75.0L230.3 76.0L230.2 77.3L229.3 77.3L228.7 76.5L227.7 75.9L226.7 74.8L226.3 74.2L225.6 73.1L225.0 72.3L224.4 71.1L223.7 70.5L223.3 69.8L222.7 69.4L221.8 68.5L221.8 68.1M229.7 78.0L230.4 77.3L231.4 77.3L232.4 77.7L232.5 78.0L234.0 78.1L234.3 77.7L235.7 78.1L236.0 78.6L237.2 78.8L237.3 79.5L236.4 79.2L235.7 79.3L234.8 79.2L234.1 79.0L233.1 78.7L232.6 78.6L230.8 78.5L230.6 78.1L229.9 78.1L229.7 78.0M245.7 79.7L247.5 79.3L247.0 79.7L245.8 80.1L244.9 80.6L244.6 80.9L244.9 80.0L245.7 79.7M241.6 79.3L244.0 79.0L243.9 79.4L242.7 79.7L241.6 79.6L241.6 79.3M239.0 79.6L240.3 79.2L240.9 79.5L239.7 79.8L239.0 79.8L239.0 79.6M237.6 79.0L239.0 79.3L238.8 79.7L237.7 79.6L237.6 79.0M240.9 80.2L242.3 80.6L241.9 80.8L240.9 80.2M242.4 71.5L244.0 71.8L245.0 71.8L245.8 71.2L245.2 72.2L244.6 72.3L243.8 72.2L242.6 72.2L241.8 72.3L241.7 72.9L242.4 73.6L242.9 73.3L244.3 73.0L243.7 73.3L242.9 74.0L243.7 75.1L243.5 76.1L244.2 76.8L243.8 77.1L243.4 76.8L242.9 76.2L242.4 75.4L242.5 74.6L241.9 74.8L242.0 76.9L241.5 77.1L241.2 76.9L241.4 76.1L241.3 75.3L240.9 75.3L240.7 74.8L241.0 74.2L241.1 73.6L241.5 72.3L241.7 72.0L242.4 71.5M248.0 70.7L248.7 71.6L248.1 72.0L248.2 73.2L247.9 72.7L247.6 71.7L247.8 71.1L248.0 70.7M248.2 75.1L249.7 74.9L250.4 75.6L249.1 75.2L248.2 75.4L248.2 75.1M246.5 75.0L247.5 75.4L247.2 75.6L246.7 75.4L246.5 75.0M250.1 73.2L251.3 73.1L251.7 72.8L252.9 73.1L253.0 73.5L253.3 74.8L254.2 75.2L254.8 74.4L255.7 73.9L256.4 73.9L257.1 74.2L258.4 74.6L260.0 75.2L261.5 75.6L262.0 76.0L262.5 76.5L262.6 76.9L263.9 77.4L263.4 77.9L263.6 78.5L264.3 78.9L264.8 79.8L265.3 79.8L265.3 80.2L265.8 80.3L265.6 80.5L266.5 80.8L265.8 81.1L265.7 80.9L264.1 80.6L263.5 80.2L263.1 79.7L262.6 79.0L261.6 78.6L260.9 78.9L260.4 79.1L260.5 79.8L259.9 80.0L259.5 79.9L258.6 79.8L257.9 79.2L257.1 79.0L256.9 79.3L255.8 79.3L256.2 78.6L256.7 78.4L256.5 77.5L256.1 76.9L254.6 76.1L253.9 76.1L252.7 75.3L252.5 75.7L252.1 75.8L252.0 75.5L252.0 75.2L251.3 74.8L252.2 74.5L252.8 74.5L252.7 74.3L251.5 74.3L251.2 73.8L250.4 73.6L250.1 73.2M264.5 77.0L265.8 76.5L267.1 75.9L267.7 76.0L266.9 77.2L266.0 77.6L264.5 77.0M266.5 74.7L267.7 75.4L268.3 76.2L268.1 76.4L267.3 75.4L266.5 74.7M271.1 77.8L272.0 78.5L271.7 78.6L271.1 77.8M273.6 78.9L274.7 79.8L274.5 80.1L273.6 78.9M274.2 80.1L275.1 80.4L274.5 80.2L274.2 80.1M277.1 88.7L279.5 90.3L279.2 90.4L277.1 88.7M287.8 86.6L288.9 86.8L288.7 87.2L287.9 87.1L287.8 86.6M289.1 86.0L290.0 85.5L289.6 86.0L289.1 86.0M279.2 84.8L279.7 85.3L279.4 85.1L279.2 84.8M261.6 105.3L262.9 105.6L264.5 105.4L264.5 106.4L264.1 107.3L263.9 107.1L263.3 107.6L262.6 107.5L262.1 106.9L262.0 106.3L261.6 105.7L261.6 105.3M284.4 100.2L285.4 100.9L285.7 101.7L286.2 102.5L286.3 101.9L286.6 102.1L286.8 102.8L287.9 103.1L288.4 102.8L288.8 102.9L288.6 103.6L288.4 104.1L287.7 104.0L287.5 104.2L287.6 104.6L286.8 105.8L286.1 106.1L286.1 105.9L285.7 105.8L286.1 105.1L285.9 104.6L285.0 104.3L285.1 104.0L285.7 103.8L285.7 102.6L285.4 102.1L285.0 101.6L284.4 100.9L284.0 100.3L284.4 100.2M284.2 105.1L284.5 105.8L285.3 105.9L285.3 106.2L285.1 106.5L284.5 107.1L284.1 107.5L284.4 107.9L283.8 107.9L283.2 108.1L282.9 108.7L282.4 109.5L281.8 109.9L281.4 110.0L280.7 110.0L280.2 109.8L279.3 109.7L279.1 109.5L279.5 108.8L280.6 108.0L281.1 107.9L281.7 107.6L282.3 107.1L282.8 106.7L283.2 106.2L283.5 105.9L283.6 105.5L284.2 105.1M0.0 140.6L8.8 140.3L13.1 141.3L21.9 141.0L29.8 140.8L25.0 137.5L15.0 136.0L18.0 134.5L27.1 133.6L35.0 132.3L43.8 131.8L52.5 132.1L60.0 133.6L62.4 131.1L66.8 131.1L79.9 131.6L84.3 131.1L89.0 129.0L91.3 126.8L94.8 124.6L98.7 123.4L95.7 125.0L93.0 127.2L94.8 128.5L96.1 130.7L94.8 132.4L88.6 133.8L83.4 134.6L83.0 135.9L86.9 137.3L93.0 137.7L96.5 138.6L100.0 139.0L102.7 137.7L107.0 136.0L110.5 136.4L110.5 138.1L114.0 137.9L116.9 136.0L123.0 134.8L130.1 133.4L134.0 131.0L145.9 129.7L159.0 128.8L169.5 128.8L173.4 127.9L178.7 127.5L189.2 125.2L194.5 127.1L200.4 127.5L200.8 130.3L206.3 128.2L214.6 126.4L225.7 125.8L228.5 125.1L239.6 126.1L253.5 125.4L261.8 126.4L270.1 128.2L282.6 130.0L277.7 133.0L279.1 135.8L274.3 137.2L278.4 139.3L284.0 140.2L290.0 140.2M102.5 136.8L105.0 135.3L109.0 135.3L110.5 136.5L107.0 137.6L103.5 137.6L102.5 136.8M86.5 129.5L88.5 127.6L90.5 128.5L89.5 130.3L87.0 130.4L86.5 129.5" class="coast"/><path id="borders" d="M45.9 33.0L68.3 33.0L68.5 32.7L72.8 33.8L76.9 35.0L78.6 36.0L78.5 38.7L81.4 37.6L83.5 37.0L84.8 36.2L87.4 36.2L88.0 35.8L88.6 34.9L89.3 34.3L90.4 34.6L90.4 35.7L90.9 36.2M31.4 16.4L31.4 23.9L34.2 25.0L35.8 24.3L37.5 25.5L40.3 27.5M50.7 46.3L52.6 46.2L55.6 47.3L57.8 47.3L59.2 46.9L60.8 48.7L62.0 49.1L63.2 48.5L64.8 50.3L66.7 51.6M70.7 60.8L70.9 59.6L72.2 59.6L71.4 58.6L73.1 58.2L73.9 57.6M73.1 58.2L73.1 59.7L74.0 59.9M73.1 59.7L73.0 60.9L72.4 61.5M73.0 60.9L74.3 61.3L74.4 61.8M74.5 62.0L76.5 61.2L78.0 60.4M76.0 63.6L77.6 63.7M78.2 66.0L78.5 64.8M82.6 65.5L82.2 66.7M87.1 63.3L86.6 66.1L87.0 66.9L88.5 66.9L90.7 67.5L90.4 70.2L90.8 70.7L91.1 71.5M91.1 71.5L89.0 71.6L88.8 75.9M88.7 75.9L86.3 74.4L84.4 73.2M84.4 72.6L81.5 71.4M84.4 73.2L81.8 75.1L80.3 75.2M88.7 75.9L86.2 78.4L86.1 80.1L88.1 81.4L88.9 81.4M88.9 81.4L89.6 82.9L89.1 84.9L88.9 86.7L88.3 87.2M88.9 81.4L92.4 80.6L92.3 81.8L95.1 83.6L96.4 84.7L98.1 85.6L98.7 87.0M98.7 87.0L95.3 88.3L94.6 90.4M94.6 90.4L92.6 90.3L90.9 90.8M90.9 90.8L90.1 89.8L89.4 87.8L88.9 86.7M90.9 90.8L89.8 92.2L89.9 94.2L88.8 96.7L88.6 99.1L88.2 101.5L87.6 103.9L87.2 106.3L87.2 108.3L87.0 110.8L86.0 112.8L87.1 114.4L89.1 114.6M94.6 90.4L95.9 91.7L98.3 94.5L100.2 94.5L101.0 93.1M101.0 93.1L101.7 94.3L100.1 95.2L98.6 96.8M98.6 96.8L100.2 97.4L102.0 99.7M98.6 96.8L98.0 99.8M98.7 87.0L98.4 90.3L100.3 90.8L101.0 93.1M96.7 65.7L95.6 67.7L96.1 68.3L96.7 68.5M96.7 68.5L94.2 69.4L93.0 69.2L93.4 71.3L91.1 71.5M96.7 68.5L96.8 69.3L97.1 69.7L96.8 71.1L97.9 71.5L99.5 71.0M99.0 67.7L98.4 69.3L99.5 71.0M101.5 67.8L101.1 70.6M99.5 71.0L101.1 70.6L103.1 70.6L103.4 69.1M143.5 44.2L143.6 46.3L142.0 47.6L138.0 49.4L138.0 50.5M134.4 50.2L138.0 50.2M138.0 50.5L138.0 51.6L135.3 51.6L135.3 53.6L134.5 55.3L131.3 55.3M138.0 50.5L141.1 52.4L146.0 55.6L147.6 57.1L149.6 56.7L154.7 53.6M141.1 52.4L139.8 52.4L140.6 59.3L135.8 60.1L135.2 60.7M135.2 60.7L133.7 59.1L131.7 59.5M148.4 57.1L148.4 58.9L147.9 60.0L145.2 60.5M145.2 60.5L143.4 61.1L141.5 62.4L140.7 64.1M154.7 53.6L156.3 54.0L157.8 53.6M154.3 45.8L153.1 47.9L152.7 48.1L153.1 52.4L154.7 53.6M165.1 47.0L165.1 54.8M157.8 53.6L164.3 56.8L164.3 56.4L165.1 56.4L165.1 54.8M165.1 54.8L174.7 54.8M157.8 53.6L157.5 55.7L157.3 58.1L156.0 61.2M164.3 56.8L164.3 59.9L163.0 61.7L163.4 63.6L163.4 63.7M157.5 66.5L159.9 65.3L161.1 65.2L162.5 64.0L163.4 63.7M156.0 61.2L156.7 62.8L157.1 64.4L157.5 66.5M163.4 63.7L163.9 65.3L167.1 64.8L171.7 63.9L172.5 64.8M175.9 58.0L174.3 60.9L173.4 62.8L172.5 64.8M174.3 60.9L175.6 60.8L177.2 61.2L178.6 61.3M172.5 64.8L172.4 65.7L171.6 66.2L173.4 68.1L172.4 69.1L172.0 69.4L170.0 69.4L169.8 69.7L167.1 68.3L165.1 67.0L163.9 65.3M179.4 63.1L178.8 63.6L179.8 64.4L180.5 65.2L183.6 66.1L181.2 68.5L178.8 69.3L178.0 69.3L178.0 73.8M173.4 68.1L175.7 69.6L178.8 69.4M172.4 69.1L173.2 71.0L172.4 72.4L172.4 73.3M172.4 73.3L175.4 75.0L176.6 76.3M168.8 73.3L172.4 73.3M170.0 69.4L169.1 71.7L168.8 73.6L168.6 74.9L168.7 76.1L169.7 79.2M169.7 79.2L171.5 80.1L172.4 80.2L172.9 81.8L175.2 81.8L177.5 80.8M172.9 81.8L173.2 83.8L173.4 86.0L172.6 84.6L171.6 83.8L169.4 85.1M169.4 85.1L171.4 86.0L171.5 88.6L170.2 90.5M170.2 90.5L170.8 92.6L171.5 94.2M164.3 81.3L164.6 81.6L165.5 81.6L167.1 82.2L168.8 83.2L168.8 82.3L168.3 79.3L169.7 79.2M162.7 81.4L162.7 83.0L162.7 85.6L163.7 86.6M165.4 86.8L167.6 85.8L169.4 85.1M154.8 77.3L158.1 77.3L159.2 79.0L160.3 78.9L162.6 78.4L162.7 81.4L164.3 81.3M154.5 86.4L155.8 86.2L161.1 86.9L163.7 86.6L165.4 86.8M158.3 95.5L161.0 95.4L161.1 92.5L161.1 90.2L161.9 90.2L161.9 87.0M161.1 92.5L163.5 92.9L165.7 93.0L166.8 91.8L168.7 90.3M168.7 90.3L166.8 88.6L165.4 86.8M168.7 90.3L170.2 90.5M166.8 96.3L167.6 95.5L168.7 96.2L168.0 97.1L167.1 96.9L166.8 96.3M154.8 76.5L156.3 76.1L158.0 74.2L159.2 71.7L159.9 69.7M159.9 69.7L160.7 68.5L163.1 69.0L165.1 68.5L167.1 68.3M153.9 75.7L155.1 74.1L156.5 74.1L156.7 72.5L156.3 71.4L157.9 70.9L157.9 69.7L159.9 69.7M152.9 70.6L154.1 70.6L155.7 70.7L156.3 71.4M152.7 71.7L154.1 71.7L154.1 70.6M157.9 70.9L156.7 68.5L157.5 66.5M151.8 68.6L152.7 67.3L154.3 66.9L155.6 64.4L156.4 62.0M147.9 63.1L149.0 61.5L152.2 62.2L154.7 61.8L156.4 62.0M147.2 67.4L147.3 65.2L147.9 63.1M146.3 67.5L146.3 65.2L145.7 63.6M145.9 67.7L145.4 66.1L145.2 63.6M142.5 68.5L142.9 65.9L142.7 64.8L142.7 63.6L145.0 63.6L145.7 63.6L146.8 62.5L146.0 61.8L145.2 60.5M146.8 62.5L147.9 63.1M139.0 69.0L138.2 66.4L138.4 64.4L140.7 64.1L142.7 64.8M140.7 64.1L140.6 62.8L141.5 62.4M134.4 65.2L136.5 65.0L136.7 65.7L135.8 66.9M136.5 65.0L138.2 66.4M135.2 60.7L135.7 62.5L138.4 64.4M135.7 62.5L134.0 62.3L131.5 62.5M132.8 63.6L134.0 62.8L134.0 62.3M174.0 43.5L174.8 42.9L179.1 42.5L181.1 42.5M179.1 42.5L178.0 44.8L176.4 46.7M176.4 46.7L181.0 49.0L182.9 49.1L183.7 48.3M176.4 46.7L174.8 47.1L175.6 48.3L174.4 48.7L173.2 48.8M173.7 45.9L174.5 46.3L176.4 46.7M183.7 48.3L183.4 47.2L182.1 45.9L181.6 43.6L181.1 42.5L180.7 40.8L181.1 40.5M178.5 39.1L180.0 39.4L181.1 40.5M177.2 37.5L179.6 37.9L182.5 38.8L184.2 38.8M180.0 39.4L182.5 38.8M181.1 40.5L182.5 41.2L183.7 41.5L184.4 41.2M188.4 42.5L190.9 41.7L193.7 43.0L194.3 43.8M194.3 43.8L194.7 47.2L194.9 48.8L194.6 52.2M194.9 48.8L198.6 48.4L200.8 46.8L202.2 45.1L202.4 43.4L205.0 42.7M194.3 43.8L197.0 42.6L199.6 42.5L201.8 41.6L202.6 42.7L205.0 42.7M179.5 59.3L180.4 58.5L182.9 58.8L186.9 57.2L189.3 56.4L189.9 54.8L186.9 54.0L186.6 52.9M187.8 59.0L186.9 57.2M189.9 54.8L190.4 52.4M143.5 37.5L147.6 38.3M137.8 38.7L139.4 38.7L139.4 39.5L139.0 40.7L139.4 41.9L139.0 42.6M147.0 31.3L148.4 32.3L150.0 32.6L151.6 33.0L151.1 34.2L149.8 35.2L150.6 35.5L151.0 37.2M150.7 29.2L149.8 30.7L150.0 31.6L150.2 32.6M148.1 31.1L149.4 31.2L149.8 30.7M152.6 28.4L152.0 28.3M156.4 29.1L156.8 30.1L157.1 31.3L155.0 32.0L156.1 33.2L155.5 34.2L152.7 34.2L151.1 34.2M157.1 31.3L160.1 32.6L163.2 32.9M163.2 32.9L164.3 31.8L163.9 30.6L163.9 29.1L163.3 28.8L160.9 28.7M162.0 27.3L166.4 27.6L167.7 27.2M163.9 29.1L166.4 27.6M167.7 27.2L170.6 30.5L164.0 31.0M175.8 34.6L177.2 32.5L173.5 30.4L170.6 30.5M167.6 24.6L167.3 25.9L167.7 27.2M164.6 25.9L167.2 26.2M167.6 23.8L169.2 22.6L168.8 20.5L169.2 18.0L168.3 16.9M164.5 19.5L164.0 17.8L161.6 16.8M153.9 25.1L155.1 23.4L154.7 21.3L156.7 19.7L157.9 18.1L159.5 17.3L161.6 16.8L164.3 17.2L165.9 16.2L168.3 16.9L169.8 16.3M150.6 35.5L151.8 35.3L153.4 35.0L154.8 34.6L156.0 35.0L156.0 35.8M155.5 33.2L157.1 33.0L158.6 33.4L158.3 34.1L158.0 34.8L157.1 35.0L156.0 35.0M158.6 33.4L160.1 32.6M158.6 33.4L159.5 34.0L161.1 33.7L163.2 33.7L163.2 32.9M158.0 34.8L159.1 35.5L160.3 35.4L161.9 35.2L162.7 34.2L163.2 33.7M163.2 33.7L164.7 33.9L166.4 33.7L167.6 35.0L167.7 35.8L168.8 36.0M166.4 33.7L168.4 33.9L169.2 35.1L169.1 35.9M161.9 35.2L163.1 36.7L163.3 36.9L165.1 37.3L166.8 37.0L168.0 37.3M163.3 36.9L163.0 38.4L163.4 39.2L166.0 39.2L167.6 38.7M160.3 35.4L160.6 36.1L160.4 36.7L160.6 37.5L159.9 38.3M157.9 37.5L157.6 36.4L158.7 36.1L160.6 36.1M157.6 36.4L158.5 36.2M160.6 37.5L161.6 37.9L163.0 38.4M160.6 38.7L161.5 39.5L161.9 40.1L161.3 40.5M161.5 39.5L163.4 39.2M168.8 36.0L169.5 35.4M184.5 35.0L182.6 33.4L185.3 31.0L189.3 31.7L194.1 31.4L194.5 30.6L193.3 29.0L197.4 28.4L201.4 28.0L204.2 29.4L207.0 29.1L209.4 31.6L211.9 31.4L215.1 32.9M215.1 32.9L217.5 31.8L223.9 30.6L228.0 32.1L232.0 32.8L236.8 32.1L239.0 32.4M239.0 32.4L240.0 32.6L241.5 29.6L242.9 29.5L246.5 30.0L247.7 32.4L250.2 33.1L253.5 33.6L252.2 36.2L250.5 36.3L250.2 38.3M215.7 32.9L217.5 34.0L218.3 35.8L222.3 38.1L226.4 38.2L229.6 39.0L234.4 37.5L235.1 36.2L238.4 34.9L239.6 34.9L241.4 34.6L239.0 32.4M215.1 32.9L213.9 34.6L211.9 34.5L211.4 35.8L209.4 36.2L209.6 38.7L206.2 40.0L204.4 40.7L205.4 42.5L205.0 42.7M187.7 38.7L190.1 36.2L192.2 35.8L194.1 36.7L197.4 37.5L200.2 39.8L202.2 38.4L204.2 38.3L209.6 37.9M187.7 38.7L190.1 39.2L191.7 38.3L194.1 39.5L196.6 41.5L198.6 42.4M199.9 40.7L201.8 40.6L204.4 40.7M201.8 39.5L203.8 39.6M199.6 42.5L199.9 40.7L201.8 39.5M205.0 42.7L207.7 43.9L208.6 45.1L208.5 47.5L210.2 48.2L212.7 49.3L215.9 50.0L216.5 49.8L219.1 50.1L223.1 49.7L223.5 50.8M209.4 49.3L212.7 50.5L215.9 51.2L215.9 50.0M199.9 53.4L202.2 52.8L201.4 50.3L203.8 48.4L205.0 47.0L205.4 45.5L207.7 43.9M215.9 54.8L216.7 51.6L219.5 52.4L219.4 54.0L219.4 55.8M219.4 55.8L220.3 53.2L221.5 51.6L223.1 49.7M224.3 64.4L224.8 62.0L224.2 60.2L223.6 58.9L223.9 56.6L225.6 56.1M225.6 56.1L226.5 56.8L226.4 58.4L228.8 58.0L230.0 60.4M230.0 61.0L228.0 61.1L227.7 62.7M227.3 54.5L228.8 56.4L231.6 60.4L231.6 60.9L230.4 63.6L229.2 64.1M232.0 55.1L229.6 54.0L227.2 54.5L226.4 55.2L224.6 53.2L223.5 50.0M225.6 56.1L226.4 55.2M225.6 67.3L227.2 67.5M233.3 71.0L235.2 71.3L237.2 71.3L238.4 69.0L239.8 69.1M258.6 74.6L258.6 79.8M245.1 40.4L246.9 39.1L248.1 38.7L250.2 38.3M246.7 42.1L248.4 41.4" class="border"/></defs><rect width="685" height="456" fill="#fff"/><g transform="translate(37.0,20.0)"><g clip-path="url(#clip)"><use href="#borders"/><path d="M48.50 0V145.0M96.50 0V145.0M145.50 0V145.0M193.50 0V145.0M241.50 0V145.0M0 24.50H290.0M0 48.50H290.0M0 72.50H290.0M0 96.50H290.0M0 120.50H290.0" class="grid"/><use href="#coast"/><circle cx="54.1" cy="39.0" r="2.25" fill="#31688e" class="dot"/><circle cx="76.7" cy="35.4" r="2.25" fill="#3b528b" class="dot"/><circle cx="84.1" cy="36.4" r="2.25" fill="#463480" class="dot"/><circle cx="79.4" cy="38.2" r="2.25" fill="#481a6c" class="dot"/><circle cx="81.7" cy="38.2" r="2.25" fill="#481a6c" class="dot"/><circle cx="94.1" cy="76.0" r="2.25" fill="#3b528b" class="dot"/><circle cx="97.2" cy="73.8" r="2.25" fill="#471365" class="dot"/><circle cx="100.7" cy="74.2" r="2.25" fill="#433e85" class="dot"/><circle cx="105.5" cy="90.0" r="2.25" fill="#2a788e" class="dot"/><circle cx="104.2" cy="88.7" r="2.25" fill="#7ad151" class="dot"/><circle cx="102.0" cy="91.3" r="2.25" fill="#277f8e" class="dot"/><circle cx="99.8" cy="94.8" r="2.25" fill="#440154" class="dot"/><circle cx="95.0" cy="97.5" r="2.25" fill="#2f6c8e" class="dot"/><circle cx="92.8" cy="96.6" r="2.25" fill="#6ece58" class="dot"/><circle cx="156.8" cy="61.4" r="2.25" fill="#414487" class="dot"/><circle cx="156.3" cy="65.4" r="2.25" fill="#2f6b8e" class="dot"/><circle cx="171.2" cy="60.1" r="2.25" fill="#482777" class="dot"/><circle cx="175.6" cy="63.2" r="2.25" fill="#33638d" class="dot"/><circle cx="170.4" cy="69.7" r="2.25" fill="#31688e" class="dot"/><circle cx="176.1" cy="67.1" r="2.25" fill="#7ad151" class="dot"/><circle cx="174.3" cy="68.9" r="2.25" fill="#6ece58" class="dot"/><circle cx="168.6" cy="73.6" r="2.25" fill="#21918c" class="dot"/><circle cx="173.9" cy="74.1" r="2.25" fill="#5ec962" class="dot"/><circle cx="169.3" cy="76.5" r="2.25" fill="#54c568" class="dot"/><circle cx="171.7" cy="71.5" r="2.25" fill="#440154" class="dot"/><circle cx="173.6" cy="77.4" r="2.25" fill="#7ad151" class="dot"/><circle cx="166.2" cy="79.2" r="2.25" fill="#2a788e" class="dot"/><circle cx="171.1" cy="79.4" r="2.25" fill="#5ec962" class="dot"/><circle cx="169.0" cy="81.2" r="2.25" fill="#26828e" class="dot"/><circle cx="171.1" cy="84.4" r="2.25" fill="#5ec962" class="dot"/><circle cx="173.5" cy="83.9" r="2.25" fill="#6ece58" class="dot"/><circle cx="168.3" cy="85.5" r="2.25" fill="#2ab07f" class="dot"/><circle cx="165.9" cy="89.1" r="2.25" fill="#3b528b" class="dot"/><circle cx="179.8" cy="45.1" r="2.25" fill="#440154" class="dot"/><circle cx="180.4" cy="46.1" r="2.25" fill="#31688e" class="dot"/><circle cx="179.8" cy="41.1" r="2.25" fill="#7ad151" class="dot"/><circle cx="182.1" cy="42.4" r="2.25" fill="#4ac16d" class="dot"/><circle cx="185.7" cy="38.2" r="2.25" fill="#1f5f66" class="dot"/><circle cx="187.3" cy="39.1" r="2.25" fill="#1f5f66" class="dot"/><circle cx="188.7" cy="39.8" r="2.25" fill="#1f5f66" class="dot"/><circle cx="193.5" cy="36.0" r="2.25" fill="#440154" class="dot"/><circle cx="199.8" cy="39.3" r="2.25" fill="#4ac16d" class="dot"/><circle cx="207.6" cy="38.0" r="2.25" fill="#e5e419" class="dot"/><circle cx="215.0" cy="38.6" r="2.25" fill="#26ad81" class="dot"/><circle cx="223.6" cy="41.6" r="2.25" fill="#1f8f8c" class="dot"/><circle cx="225.9" cy="42.5" r="2.25" fill="#39568c" class="dot"/><circle cx="217.7" cy="46.3" r="2.25" fill="#440154" class="dot"/><circle cx="214.7" cy="47.2" r="2.25" fill="#d8e219" class="dot"/><circle cx="218.0" cy="48.8" r="2.25" fill="#2db27d" class="dot"/><circle cx="255.8" cy="94.8" r="2.25" fill="#2a768e" class="dot"/><circle cx="254.8" cy="97.4" r="2.25" fill="#23898e" class="dot"/><circle cx="258.1" cy="97.1" r="2.25" fill="#3e4989" class="dot"/><circle cx="257.8" cy="101.1" r="2.25" fill="#1fa088" class="dot"/></g><rect x="0.5" y="0.5" width="290.0" height="145.0" class="frame"/></g><text x="37.5" y="15.5" class="plab">a)</text><text x="33.0" y="47.8" class="tl" text-anchor="end">60°N</text><text x="33.0" y="71.9" class="tl" text-anchor="end">30°N</text><text x="33.0" y="96.1" class="tl" text-anchor="end">0°</text><text x="33.0" y="120.3" class="tl" text-anchor="end">30°S</text><text x="33.0" y="144.4" class="tl" text-anchor="end">60°S</text><text x="37.0" y="180.0" class="tl" text-anchor="middle">180°</text><text x="85.3" y="180.0" class="tl" text-anchor="middle">120°W</text><text x="133.7" y="180.0" class="tl" text-anchor="middle">60°W</text><text x="182.0" y="180.0" class="tl" text-anchor="middle">0°</text><text x="230.3" y="180.0" class="tl" text-anchor="middle">60°E</text><text x="278.7" y="180.0" class="tl" text-anchor="middle">120°E</text><text x="327.0" y="180.0" class="tl" text-anchor="middle">180°</text><g transform="translate(380.0,20.0)"><g clip-path="url(#clip)"><use href="#borders"/><path d="M48.50 0V145.0M96.50 0V145.0M145.50 0V145.0M193.50 0V145.0M241.50 0V145.0M0 24.50H290.0M0 48.50H290.0M0 72.50H290.0M0 96.50H290.0M0 120.50H290.0" class="grid"/><use href="#coast"/><circle cx="54.1" cy="39.0" r="2.25" fill="#c8343c" class="dot"/><circle cx="76.7" cy="35.4" r="2.25" fill="#efe0d5" class="dot"/><circle cx="84.1" cy="36.4" r="2.25" fill="#ece6e2" class="dot"/><circle cx="79.4" cy="38.2" r="2.25" fill="#f0c3a8" class="dot"/><circle cx="81.7" cy="38.2" r="2.25" fill="#e0896a" class="dot"/><circle cx="94.1" cy="76.0" r="2.25" fill="#e8f0f4" class="dot"/><circle cx="97.2" cy="73.8" r="2.25" fill="#d6604d" class="dot"/><circle cx="100.7" cy="74.2" r="2.25" fill="#cc4c44" class="dot"/><circle cx="105.5" cy="90.0" r="2.25" fill="#eaa07f" class="dot"/><circle cx="104.2" cy="88.7" r="2.25" fill="#d1e5f0" class="dot"/><circle cx="102.0" cy="91.3" r="2.25" fill="#f6c4a6" class="dot"/><circle cx="99.8" cy="94.8" r="2.25" fill="#d05b4a" class="dot"/><circle cx="95.0" cy="97.5" r="2.25" fill="#f4b89a" class="dot"/><circle cx="92.8" cy="96.6" r="2.25" fill="#d1e5f0" class="dot"/><circle cx="156.8" cy="61.4" r="2.25" fill="#f2c4a8" class="dot"/><circle cx="156.3" cy="65.4" r="2.25" fill="#e5e5e5" class="dot"/><circle cx="171.2" cy="60.1" r="2.25" fill="#de6a52" class="dot"/><circle cx="175.6" cy="63.2" r="2.25" fill="#f3ede8" class="dot"/><circle cx="170.4" cy="69.7" r="2.25" fill="#f0b896" class="dot"/><circle cx="176.1" cy="67.1" r="2.25" fill="#cfe3ee" class="dot"/><circle cx="174.3" cy="68.9" r="2.25" fill="#c6dbef" class="dot"/><circle cx="168.6" cy="73.6" r="2.25" fill="#b5d4e6" class="dot"/><circle cx="173.9" cy="74.1" r="2.25" fill="#dca58a" class="dot"/><circle cx="169.3" cy="76.5" r="2.25" fill="#bcd9ea" class="dot"/><circle cx="171.7" cy="71.5" r="2.25" fill="#e8b59a" class="dot"/><circle cx="173.6" cy="77.4" r="2.25" fill="#e07050" class="dot"/><circle cx="166.2" cy="79.2" r="2.25" fill="#d6504a" class="dot"/><circle cx="171.1" cy="79.4" r="2.25" fill="#eab597" class="dot"/><circle cx="169.0" cy="81.2" r="2.25" fill="#cf4a45" class="dot"/><circle cx="171.1" cy="84.4" r="2.25" fill="#eec0a5" class="dot"/><circle cx="173.5" cy="83.9" r="2.25" fill="#e4e4e4" class="dot"/><circle cx="168.3" cy="85.5" r="2.25" fill="#eec0a5" class="dot"/><circle cx="165.9" cy="89.1" r="2.25" fill="#e27b58" class="dot"/><circle cx="179.8" cy="45.1" r="2.25" fill="#67001f" class="dot"/><circle cx="180.4" cy="46.1" r="2.25" fill="#e5785a" class="dot"/><circle cx="179.8" cy="41.1" r="2.25" fill="#d4e6f0" class="dot"/><circle cx="182.1" cy="42.4" r="2.25" fill="#f0c8a8" class="dot"/><circle cx="185.7" cy="38.2" r="2.25" fill="#dca888" class="dot"/><circle cx="187.3" cy="39.1" r="2.25" fill="#bfdcec" class="dot"/><circle cx="188.7" cy="39.8" r="2.25" fill="#a8cde3" class="dot"/><circle cx="193.5" cy="36.0" r="2.25" fill="#d5513f" class="dot"/><circle cx="199.8" cy="39.3" r="2.25" fill="#eedfd3" class="dot"/><circle cx="207.6" cy="38.0" r="2.25" fill="#5a9fcb" class="dot"/><circle cx="215.0" cy="38.6" r="2.25" fill="#8b0a26" class="dot"/><circle cx="223.6" cy="41.6" r="2.25" fill="#f4b898" class="dot"/><circle cx="225.9" cy="42.5" r="2.25" fill="#e8775a" class="dot"/><circle cx="217.7" cy="46.3" r="2.25" fill="#8b0a26" class="dot"/><circle cx="214.7" cy="47.2" r="2.25" fill="#3d7fbf" class="dot"/><circle cx="218.0" cy="48.8" r="2.25" fill="#efe0d3" class="dot"/><circle cx="255.8" cy="94.8" r="2.25" fill="#f4b593" class="dot"/><circle cx="254.8" cy="97.4" r="2.25" fill="#8ec4de" class="dot"/><circle cx="258.1" cy="97.1" r="2.25" fill="#f8dcc8" class="dot"/><circle cx="257.8" cy="101.1" r="2.25" fill="#d6eaf3" class="dot"/></g><rect x="0.5" y="0.5" width="290.0" height="145.0" class="frame"/></g><text x="380.5" y="15.5" class="plab">b)</text><text x="376.0" y="47.8" class="tl" text-anchor="end">60°N</text><text x="376.0" y="71.9" class="tl" text-anchor="end">30°N</text><text x="376.0" y="96.1" class="tl" text-anchor="end">0°</text><text x="376.0" y="120.3" class="tl" text-anchor="end">30°S</text><text x="376.0" y="144.4" class="tl" text-anchor="end">60°S</text><text x="380.0" y="180.0" class="tl" text-anchor="middle">180°</text><text x="428.3" y="180.0" class="tl" text-anchor="middle">120°W</text><text x="476.7" y="180.0" class="tl" text-anchor="middle">60°W</text><text x="525.0" y="180.0" class="tl" text-anchor="middle">0°</text><text x="573.3" y="180.0" class="tl" text-anchor="middle">60°E</text><text x="621.7" y="180.0" class="tl" text-anchor="middle">120°E</text><text x="670.0" y="180.0" class="tl" text-anchor="middle">180°</text><rect x="597.0" y="24.0" width="69.5" height="21" fill="#fff" fill-opacity="0.7"/><text x="664.0" y="42.3" class="pct" text-anchor="end">70.97%</text><g transform="translate(37.0,214.0)"><g clip-path="url(#clip)"><use href="#borders"/><path d="M48.50 0V145.0M96.50 0V145.0M145.50 0V145.0M193.50 0V145.0M241.50 0V145.0M0 24.50H290.0M0 48.50H290.0M0 72.50H290.0M0 96.50H290.0M0 120.50H290.0" class="grid"/><use href="#coast"/><circle cx="54.1" cy="39.0" r="2.25" fill="#3dbc74" class="dot"/><circle cx="76.7" cy="35.4" r="2.25" fill="#472d7b" class="dot"/><circle cx="84.1" cy="36.4" r="2.25" fill="#46327e" class="dot"/><circle cx="79.4" cy="38.2" r="2.25" fill="#3b528b" class="dot"/><circle cx="81.7" cy="38.2" r="2.25" fill="#3e4a89" class="dot"/><circle cx="94.1" cy="76.0" r="2.25" fill="#404688" class="dot"/><circle cx="97.2" cy="73.8" r="2.25" fill="#3b528b" class="dot"/><circle cx="100.7" cy="74.2" r="2.25" fill="#481f70" class="dot"/><circle cx="105.5" cy="90.0" r="2.25" fill="#b5de2b" class="dot"/><circle cx="104.2" cy="88.7" r="2.25" fill="#3e4a89" class="dot"/><circle cx="102.0" cy="91.3" r="2.25" fill="#440154" class="dot"/><circle cx="99.8" cy="94.8" r="2.25" fill="#3b528b" class="dot"/><circle cx="95.0" cy="97.5" r="2.25" fill="#33638d" class="dot"/><circle cx="92.8" cy="96.6" r="2.25" fill="#2c718e" class="dot"/><circle cx="156.8" cy="61.4" r="2.25" fill="#440154" class="dot"/><circle cx="156.3" cy="65.4" r="2.25" fill="#450559" class="dot"/><circle cx="171.2" cy="60.1" r="2.25" fill="#472d7b" class="dot"/><circle cx="175.6" cy="63.2" r="2.25" fill="#3b528b" class="dot"/><circle cx="170.4" cy="69.7" r="2.25" fill="#2a788e" class="dot"/><circle cx="176.1" cy="67.1" r="2.25" fill="#4ac16d" class="dot"/><circle cx="174.3" cy="68.9" r="2.25" fill="#a0da39" class="dot"/><circle cx="168.6" cy="73.6" r="2.25" fill="#2db27d" class="dot"/><circle cx="173.9" cy="74.1" r="2.25" fill="#4ac16d" class="dot"/><circle cx="169.3" cy="76.5" r="2.25" fill="#52c569" class="dot"/><circle cx="171.7" cy="71.5" r="2.25" fill="#450457" class="dot"/><circle cx="173.6" cy="77.4" r="2.25" fill="#29af7f" class="dot"/><circle cx="166.2" cy="79.2" r="2.25" fill="#1f9a8a" class="dot"/><circle cx="171.1" cy="79.4" r="2.25" fill="#addc30" class="dot"/><circle cx="169.0" cy="81.2" r="2.25" fill="#33638d" class="dot"/><circle cx="171.1" cy="84.4" r="2.25" fill="#25ab82" class="dot"/><circle cx="173.5" cy="83.9" r="2.25" fill="#7ad151" class="dot"/><circle cx="168.3" cy="85.5" r="2.25" fill="#3aba76" class="dot"/><circle cx="165.9" cy="89.1" r="2.25" fill="#3e4a89" class="dot"/><circle cx="179.8" cy="45.1" r="2.25" fill="#440154" class="dot"/><circle cx="180.4" cy="46.1" r="2.25" fill="#238a8d" class="dot"/><circle cx="179.8" cy="41.1" r="2.25" fill="#5ec962" class="dot"/><circle cx="182.1" cy="42.4" r="2.25" fill="#3dbc74" class="dot"/><circle cx="185.7" cy="38.2" r="2.25" fill="#1f6e6e" class="dot"/><circle cx="187.3" cy="39.1" r="2.25" fill="#1f6e6e" class="dot"/><circle cx="188.7" cy="39.8" r="2.25" fill="#1f6e6e" class="dot"/><circle cx="193.5" cy="36.0" r="2.25" fill="#a0da39" class="dot"/><circle cx="199.8" cy="39.3" r="2.25" fill="#35b779" class="dot"/><circle cx="207.6" cy="38.0" r="2.25" fill="#dfe318" class="dot"/><circle cx="215.0" cy="38.6" r="2.25" fill="#29af7f" class="dot"/><circle cx="223.6" cy="41.6" r="2.25" fill="#365c8d" class="dot"/><circle cx="225.9" cy="42.5" r="2.25" fill="#39568c" class="dot"/><circle cx="217.7" cy="46.3" r="2.25" fill="#440154" class="dot"/><circle cx="214.7" cy="47.2" r="2.25" fill="#25ab82" class="dot"/><circle cx="218.0" cy="48.8" r="2.25" fill="#23888e" class="dot"/><circle cx="255.8" cy="94.8" r="2.25" fill="#3e4a89" class="dot"/><circle cx="254.8" cy="97.4" r="2.25" fill="#1fa088" class="dot"/><circle cx="258.1" cy="97.1" r="2.25" fill="#22a884" class="dot"/><circle cx="257.8" cy="101.1" r="2.25" fill="#46337f" class="dot"/></g><rect x="0.5" y="0.5" width="290.0" height="145.0" class="frame"/></g><text x="37.5" y="209.5" class="plab">c)</text><text x="33.0" y="241.8" class="tl" text-anchor="end">60°N</text><text x="33.0" y="265.9" class="tl" text-anchor="end">30°N</text><text x="33.0" y="290.1" class="tl" text-anchor="end">0°</text><text x="33.0" y="314.3" class="tl" text-anchor="end">30°S</text><text x="33.0" y="338.4" class="tl" text-anchor="end">60°S</text><text x="37.0" y="374.0" class="tl" text-anchor="middle">180°</text><text x="85.3" y="374.0" class="tl" text-anchor="middle">120°W</text><text x="133.7" y="374.0" class="tl" text-anchor="middle">60°W</text><text x="182.0" y="374.0" class="tl" text-anchor="middle">0°</text><text x="230.3" y="374.0" class="tl" text-anchor="middle">60°E</text><text x="278.7" y="374.0" class="tl" text-anchor="middle">120°E</text><text x="327.0" y="374.0" class="tl" text-anchor="middle">180°</text><g transform="translate(380.0,214.0)"><g clip-path="url(#clip)"><use href="#borders"/><path d="M48.50 0V145.0M96.50 0V145.0M145.50 0V145.0M193.50 0V145.0M241.50 0V145.0M0 24.50H290.0M0 48.50H290.0M0 72.50H290.0M0 96.50H290.0M0 120.50H290.0" class="grid"/><use href="#coast"/><circle cx="54.1" cy="39.0" r="2.25" fill="#d1e5f0" class="dot"/><circle cx="76.7" cy="35.4" r="2.25" fill="#dbeaf2" class="dot"/><circle cx="84.1" cy="36.4" r="2.25" fill="#c8e0ed" class="dot"/><circle cx="79.4" cy="38.2" r="2.25" fill="#92c5de" class="dot"/><circle cx="81.7" cy="38.2" r="2.25" fill="#b4d6e8" class="dot"/><circle cx="94.1" cy="76.0" r="2.25" fill="#a6cfe4" class="dot"/><circle cx="97.2" cy="73.8" r="2.25" fill="#dcebf3" class="dot"/><circle cx="100.7" cy="74.2" r="2.25" fill="#6d0a22" class="dot"/><circle cx="105.5" cy="90.0" r="2.25" fill="#3a7bb6" class="dot"/><circle cx="104.2" cy="88.7" r="2.25" fill="#fbe5d8" class="dot"/><circle cx="102.0" cy="91.3" r="2.25" fill="#e99a73" class="dot"/><circle cx="99.8" cy="94.8" r="2.25" fill="#c2dcea" class="dot"/><circle cx="95.0" cy="97.5" r="2.25" fill="#d3e6f0" class="dot"/><circle cx="92.8" cy="96.6" r="2.25" fill="#f6d5c0" class="dot"/><circle cx="156.8" cy="61.4" r="2.25" fill="#c6dbe8" class="dot"/><circle cx="156.3" cy="65.4" r="2.25" fill="#c0303a" class="dot"/><circle cx="171.2" cy="60.1" r="2.25" fill="#f8e4d8" class="dot"/><circle cx="175.6" cy="63.2" r="2.25" fill="#f5e0d5" class="dot"/><circle cx="170.4" cy="69.7" r="2.25" fill="#a6cfe4" class="dot"/><circle cx="176.1" cy="67.1" r="2.25" fill="#6aaed6" class="dot"/><circle cx="174.3" cy="68.9" r="2.25" fill="#6aaed6" class="dot"/><circle cx="168.6" cy="73.6" r="2.25" fill="#c2dcea" class="dot"/><circle cx="173.9" cy="74.1" r="2.25" fill="#b8d5e8" class="dot"/><circle cx="169.3" cy="76.5" r="2.25" fill="#bcd9ea" class="dot"/><circle cx="171.7" cy="71.5" r="2.25" fill="#e8d0c0" class="dot"/><circle cx="173.6" cy="77.4" r="2.25" fill="#ee9a78" class="dot"/><circle cx="166.2" cy="79.2" r="2.25" fill="#f5dccb" class="dot"/><circle cx="171.1" cy="79.4" r="2.25" fill="#c2dcea" class="dot"/><circle cx="169.0" cy="81.2" r="2.25" fill="#e27559" class="dot"/><circle cx="171.1" cy="84.4" r="2.25" fill="#bfd9ea" class="dot"/><circle cx="173.5" cy="83.9" r="2.25" fill="#c6dcea" class="dot"/><circle cx="168.3" cy="85.5" r="2.25" fill="#f5e1d6" class="dot"/><circle cx="165.9" cy="89.1" r="2.25" fill="#cfe3ee" class="dot"/><circle cx="179.8" cy="45.1" r="2.25" fill="#8b0a26" class="dot"/><circle cx="180.4" cy="46.1" r="2.25" fill="#92c5de" class="dot"/><circle cx="179.8" cy="41.1" r="2.25" fill="#92c5de" class="dot"/><circle cx="182.1" cy="42.4" r="2.25" fill="#b5d7e8" class="dot"/><circle cx="185.7" cy="38.2" r="2.25" fill="#d8b49c" class="dot"/><circle cx="187.3" cy="39.1" r="2.25" fill="#a8cfe3" class="dot"/><circle cx="188.7" cy="39.8" r="2.25" fill="#a8cfe3" class="dot"/><circle cx="193.5" cy="36.0" r="2.25" fill="#1a4a80" class="dot"/><circle cx="199.8" cy="39.3" r="2.25" fill="#d1e5f0" class="dot"/><circle cx="207.6" cy="38.0" r="2.25" fill="#5a9fcb" class="dot"/><circle cx="215.0" cy="38.6" r="2.25" fill="#e0654f" class="dot"/><circle cx="223.6" cy="41.6" r="2.25" fill="#6aaed6" class="dot"/><circle cx="225.9" cy="42.5" r="2.25" fill="#d1e5f0" class="dot"/><circle cx="217.7" cy="46.3" r="2.25" fill="#f6d0b8" class="dot"/><circle cx="214.7" cy="47.2" r="2.25" fill="#2b65a8" class="dot"/><circle cx="218.0" cy="48.8" r="2.25" fill="#7fb8da" class="dot"/><circle cx="255.8" cy="94.8" r="2.25" fill="#f7f7f7" class="dot"/><circle cx="254.8" cy="97.4" r="2.25" fill="#92c5de" class="dot"/><circle cx="258.1" cy="97.1" r="2.25" fill="#a6cfe4" class="dot"/><circle cx="257.8" cy="101.1" r="2.25" fill="#f2b48f" class="dot"/></g><rect x="0.5" y="0.5" width="290.0" height="145.0" class="frame"/></g><text x="380.5" y="209.5" class="plab">d)</text><text x="376.0" y="241.8" class="tl" text-anchor="end">60°N</text><text x="376.0" y="265.9" class="tl" text-anchor="end">30°N</text><text x="376.0" y="290.1" class="tl" text-anchor="end">0°</text><text x="376.0" y="314.3" class="tl" text-anchor="end">30°S</text><text x="376.0" y="338.4" class="tl" text-anchor="end">60°S</text><text x="380.0" y="374.0" class="tl" text-anchor="middle">180°</text><text x="428.3" y="374.0" class="tl" text-anchor="middle">120°W</text><text x="476.7" y="374.0" class="tl" text-anchor="middle">60°W</text><text x="525.0" y="374.0" class="tl" text-anchor="middle">0°</text><text x="573.3" y="374.0" class="tl" text-anchor="middle">60°E</text><text x="621.7" y="374.0" class="tl" text-anchor="middle">120°E</text><text x="670.0" y="374.0" class="tl" text-anchor="middle">180°</text><rect x="597.0" y="218.0" width="69.5" height="21" fill="#fff" fill-opacity="0.7"/><text x="664.0" y="236.3" class="pct" text-anchor="end">30.65%</text><rect x="47.0" y="405.0" width="269.6" height="11.6" fill="url(#vir)" stroke="#222" stroke-width="0.7"/><path d="M47.0 416.6V419.1" stroke="#333" stroke-width="0.7"/><text x="47.0" y="432.3" class="tl" text-anchor="middle">1.0</text><path d="M114.4 416.6V419.1" stroke="#333" stroke-width="0.7"/><text x="114.4" y="432.3" class="tl" text-anchor="middle">1.5</text><path d="M181.8 416.6V419.1" stroke="#333" stroke-width="0.7"/><text x="181.8" y="432.3" class="tl" text-anchor="middle">2.0</text><path d="M249.2 416.6V419.1" stroke="#333" stroke-width="0.7"/><text x="249.2" y="432.3" class="tl" text-anchor="middle">2.5</text><path d="M316.6 416.6V419.1" stroke="#333" stroke-width="0.7"/><text x="316.6" y="432.3" class="tl" text-anchor="middle">3.0</text><text x="182.1" y="450.5" class="cbl" text-anchor="middle">ABLH (km)</text><rect x="388.2" y="405.0" width="269.6" height="11.6" fill="url(#rdbu)" stroke="#222" stroke-width="0.7"/><path d="M388.2 416.6V419.1" stroke="#333" stroke-width="0.7"/><text x="388.2" y="432.3" class="tl" text-anchor="middle">−1.0</text><path d="M455.6 416.6V419.1" stroke="#333" stroke-width="0.7"/><text x="455.6" y="432.3" class="tl" text-anchor="middle">−0.5</text><path d="M523.0 416.6V419.1" stroke="#333" stroke-width="0.7"/><text x="523.0" y="432.3" class="tl" text-anchor="middle">0.0</text><path d="M590.4 416.6V419.1" stroke="#333" stroke-width="0.7"/><text x="590.4" y="432.3" class="tl" text-anchor="middle">0.5</text><path d="M657.8 416.6V419.1" stroke="#333" stroke-width="0.7"/><text x="657.8" y="432.3" class="tl" text-anchor="middle">1.0</text><text x="523.3" y="450.5" class="cbl" text-anchor="middle">ΔABLH (km)</text></svg></body></html>
